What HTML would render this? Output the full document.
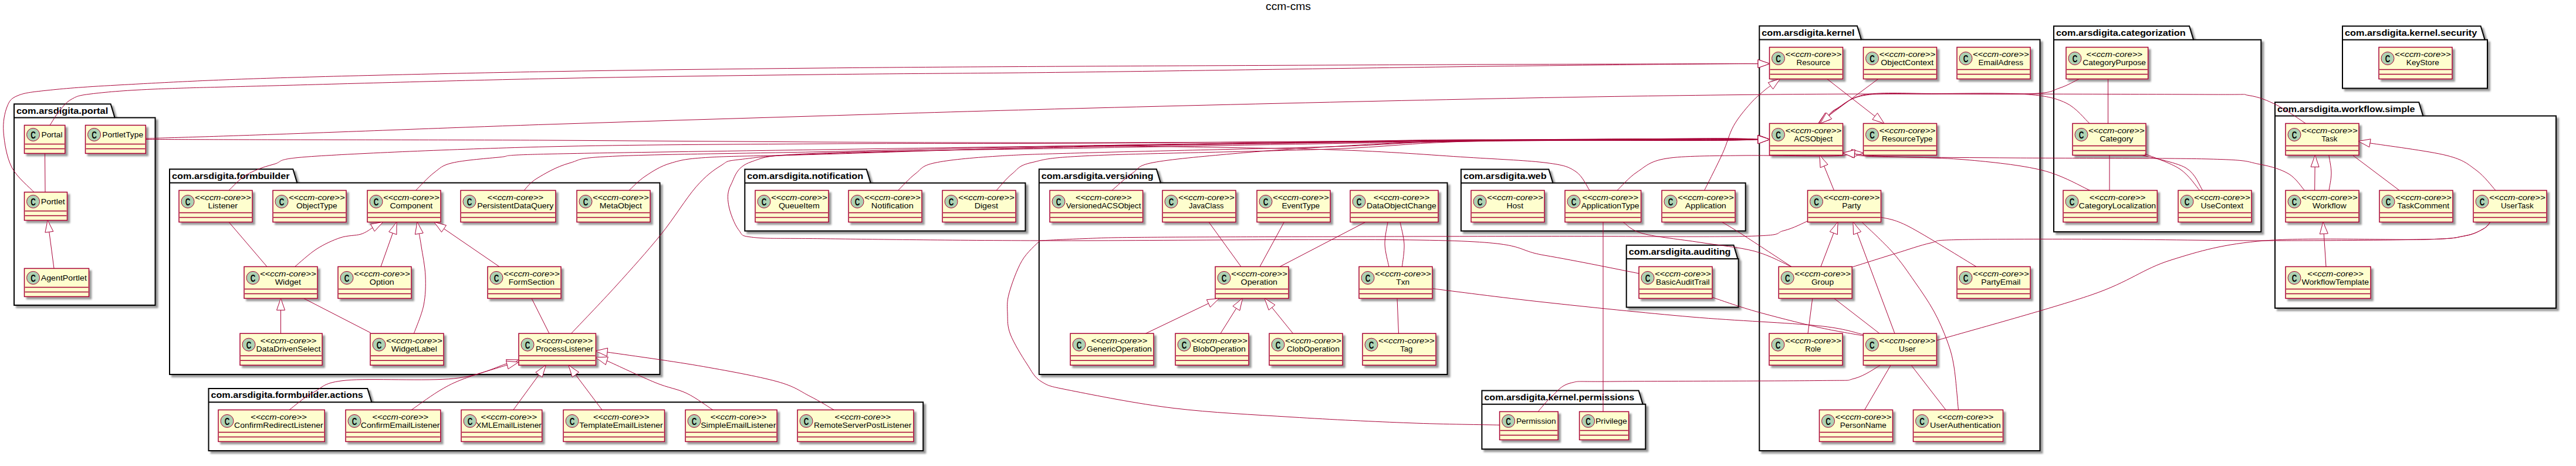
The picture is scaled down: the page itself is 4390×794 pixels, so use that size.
<!DOCTYPE html><html><head><meta charset="utf-8"><style>html,body{margin:0;padding:0;background:#fff;width:4390px;height:794px;overflow:hidden}svg{display:block}</style></head><body>
<svg width="4390" height="794" viewBox="0 0 4390 794" style="font-family:'Liberation Sans', sans-serif">
<defs><filter height="300%" id="f1" width="300%" x="-1" y="-1"><feGaussianBlur result="blurOut" stdDeviation="1.5"/><feColorMatrix in="blurOut" result="blurOut2" type="matrix" values="0 0 0 0 0 0 0 0 0 0 0 0 0 0 0 0 0 0 .4 0"/><feOffset dx="4.0" dy="4.0" in="blurOut2" result="blurOut3"/><feBlend in="SourceGraphic" in2="blurOut3" mode="normal"/></filter></defs>
<rect width="4390" height="794" fill="#fff"/>
<text x="2157" y="16.7" font-size="18" textLength="77" lengthAdjust="spacingAndGlyphs">ccm-cms</text>
<polygon points="24,177.3 188.6,177.3 195.6,200.6 264.5,200.6 264.5,520 24,520 24,177.3" fill="#fff" stroke="#000" stroke-width="2" filter="url(#f1)"/>
<line x1="24" y1="200.6" x2="195.6" y2="200.6" stroke="#000" stroke-width="2"/>
<text x="28" y="193.6" font-size="14" font-weight="bold" textLength="156.2" lengthAdjust="spacingAndGlyphs">com.arsdigita.portal</text>
<polygon points="289,288.2 499.3,288.2 506.3,311.5 1124.5,311.5 1124.5,638 289,638 289,288.2" fill="#fff" stroke="#000" stroke-width="2" filter="url(#f1)"/>
<line x1="289" y1="311.5" x2="506.3" y2="311.5" stroke="#000" stroke-width="2"/>
<text x="293" y="304.5" font-size="14" font-weight="bold" textLength="200.6" lengthAdjust="spacingAndGlyphs">com.arsdigita.formbuilder</text>
<polygon points="355.5,662 626.3,662 633.3,685.3 1573.2,685.3 1573.2,768 355.5,768 355.5,662" fill="#fff" stroke="#000" stroke-width="2" filter="url(#f1)"/>
<line x1="355.5" y1="685.3" x2="633.3" y2="685.3" stroke="#000" stroke-width="2"/>
<text x="359.5" y="678.3" font-size="14" font-weight="bold" textLength="259.3" lengthAdjust="spacingAndGlyphs">com.arsdigita.formbuilder.actions</text>
<polygon points="1269.3,288.4 1476.7,288.4 1483.7,311.7 1747.4,311.7 1747.4,393.5 1269.3,393.5 1269.3,288.4" fill="#fff" stroke="#000" stroke-width="2" filter="url(#f1)"/>
<line x1="1269.3" y1="311.7" x2="1483.7" y2="311.7" stroke="#000" stroke-width="2"/>
<text x="1273.3" y="304.7" font-size="14" font-weight="bold" textLength="197.8" lengthAdjust="spacingAndGlyphs">com.arsdigita.notification</text>
<polygon points="1770.8,288.2 1970.9,288.2 1977.9,311.5 2466.5,311.5 2466.5,638 1770.8,638 1770.8,288.2" fill="#fff" stroke="#000" stroke-width="2" filter="url(#f1)"/>
<line x1="1770.8" y1="311.5" x2="1977.9" y2="311.5" stroke="#000" stroke-width="2"/>
<text x="1774.8" y="304.5" font-size="14" font-weight="bold" textLength="190.7" lengthAdjust="spacingAndGlyphs">com.arsdigita.versioning</text>
<polygon points="2489.9,288.4 2639.4,288.4 2646.4,311.7 2974.7,311.7 2974.7,393.5 2489.9,393.5 2489.9,288.4" fill="#fff" stroke="#000" stroke-width="2" filter="url(#f1)"/>
<line x1="2489.9" y1="311.7" x2="2646.4" y2="311.7" stroke="#000" stroke-width="2"/>
<text x="2493.9" y="304.7" font-size="14" font-weight="bold" textLength="141.7" lengthAdjust="spacingAndGlyphs">com.arsdigita.web</text>
<polygon points="2771.7,417.8 2954.5,417.8 2961.5,441.1 2962.6,441.1 2962.6,523.5 2771.7,523.5 2771.7,417.8" fill="#fff" stroke="#000" stroke-width="2" filter="url(#f1)"/>
<line x1="2771.7" y1="441.1" x2="2961.5" y2="441.1" stroke="#000" stroke-width="2"/>
<text x="2775.7" y="434.1" font-size="14" font-weight="bold" textLength="173.9" lengthAdjust="spacingAndGlyphs">com.arsdigita.auditing</text>
<polygon points="2525.4,665.4 2792.6,665.4 2799.6,688.7 2804.3,688.7 2804.3,765.3 2525.4,765.3 2525.4,665.4" fill="#fff" stroke="#000" stroke-width="2" filter="url(#f1)"/>
<line x1="2525.4" y1="688.7" x2="2799.6" y2="688.7" stroke="#000" stroke-width="2"/>
<text x="2529.4" y="681.7" font-size="14" font-weight="bold" textLength="255.8" lengthAdjust="spacingAndGlyphs">com.arsdigita.kernel.permissions</text>
<polygon points="2998.3,44.2 3165.0,44.2 3172.0,67.5 3476.5,67.5 3476.5,768 2998.3,768 2998.3,44.2" fill="#fff" stroke="#000" stroke-width="2" filter="url(#f1)"/>
<line x1="2998.3" y1="67.5" x2="3172.0" y2="67.5" stroke="#000" stroke-width="2"/>
<text x="3002.3" y="60.5" font-size="14" font-weight="bold" textLength="158.3" lengthAdjust="spacingAndGlyphs">com.arsdigita.kernel</text>
<polygon points="3500,44.4 3731.1,44.4 3738.1,67.7 3853.3,67.7 3853.3,395 3500,395 3500,44.4" fill="#fff" stroke="#000" stroke-width="2" filter="url(#f1)"/>
<line x1="3500" y1="67.7" x2="3738.1" y2="67.7" stroke="#000" stroke-width="2"/>
<text x="3504" y="60.7" font-size="14" font-weight="bold" textLength="220.7" lengthAdjust="spacingAndGlyphs">com.arsdigita.categorization</text>
<polygon points="3992,44.4 4227.6,44.4 4234.6,67.7 4239,67.7 4239,150.6 3992,150.6 3992,44.4" fill="#fff" stroke="#000" stroke-width="2" filter="url(#f1)"/>
<line x1="3992" y1="67.7" x2="4234.6" y2="67.7" stroke="#000" stroke-width="2"/>
<text x="3996" y="60.7" font-size="14" font-weight="bold" textLength="225.2" lengthAdjust="spacingAndGlyphs">com.arsdigita.kernel.security</text>
<polygon points="3877,174.3 4122.3,174.3 4129.3,197.6 4356,197.6 4356,525 3877,525 3877,174.3" fill="#fff" stroke="#000" stroke-width="2" filter="url(#f1)"/>
<line x1="3877" y1="197.6" x2="4129.3" y2="197.6" stroke="#000" stroke-width="2"/>
<text x="3881" y="190.6" font-size="14" font-weight="bold" textLength="234.5" lengthAdjust="spacingAndGlyphs">com.arsdigita.workflow.simple</text>
<g><rect x="41.5" y="213.4" width="69.3" height="48" fill="#FEFECE" stroke="#A80036" stroke-width="1.5" filter="url(#f1)"/>
<circle cx="56.5" cy="229.4" r="11" fill="#ADD1B2" stroke="#A80036" stroke-width="1"/>
<text x="56.5" y="236.0" font-size="17" font-weight="bold" text-anchor="middle" textLength="8.6" lengthAdjust="spacingAndGlyphs">C</text>
<text x="88.5" y="233.6" font-size="12" text-anchor="middle" textLength="36.0" lengthAdjust="spacingAndGlyphs">Portal</text>
<line x1="42.5" y1="245.4" x2="109.8" y2="245.4" stroke="#A80036" stroke-width="1.5"/><line x1="42.5" y1="253.4" x2="109.8" y2="253.4" stroke="#A80036" stroke-width="1.5"/></g>
<g><rect x="145.5" y="213.4" width="102.8" height="48" fill="#FEFECE" stroke="#A80036" stroke-width="1.5" filter="url(#f1)"/>
<circle cx="160.5" cy="229.4" r="11" fill="#ADD1B2" stroke="#A80036" stroke-width="1"/>
<text x="160.5" y="236.0" font-size="17" font-weight="bold" text-anchor="middle" textLength="8.6" lengthAdjust="spacingAndGlyphs">C</text>
<text x="209.2" y="233.6" font-size="12" text-anchor="middle" textLength="69.8" lengthAdjust="spacingAndGlyphs">PortletType</text>
<line x1="146.5" y1="245.4" x2="247.3" y2="245.4" stroke="#A80036" stroke-width="1.5"/><line x1="146.5" y1="253.4" x2="247.3" y2="253.4" stroke="#A80036" stroke-width="1.5"/></g>
<g><rect x="41.5" y="327.4" width="73" height="48" fill="#FEFECE" stroke="#A80036" stroke-width="1.5" filter="url(#f1)"/>
<circle cx="56.5" cy="343.4" r="11" fill="#ADD1B2" stroke="#A80036" stroke-width="1"/>
<text x="56.5" y="350.0" font-size="17" font-weight="bold" text-anchor="middle" textLength="8.6" lengthAdjust="spacingAndGlyphs">C</text>
<text x="90.3" y="347.6" font-size="12" text-anchor="middle" textLength="41.0" lengthAdjust="spacingAndGlyphs">Portlet</text>
<line x1="42.5" y1="359.4" x2="113.5" y2="359.4" stroke="#A80036" stroke-width="1.5"/><line x1="42.5" y1="367.4" x2="113.5" y2="367.4" stroke="#A80036" stroke-width="1.5"/></g>
<g><rect x="41.5" y="457.4" width="110" height="48" fill="#FEFECE" stroke="#A80036" stroke-width="1.5" filter="url(#f1)"/>
<circle cx="56.5" cy="473.4" r="11" fill="#ADD1B2" stroke="#A80036" stroke-width="1"/>
<text x="56.5" y="480.0" font-size="17" font-weight="bold" text-anchor="middle" textLength="8.6" lengthAdjust="spacingAndGlyphs">C</text>
<text x="108.8" y="477.6" font-size="12" text-anchor="middle" textLength="78.1" lengthAdjust="spacingAndGlyphs">AgentPortlet</text>
<line x1="42.5" y1="489.4" x2="150.5" y2="489.4" stroke="#A80036" stroke-width="1.5"/><line x1="42.5" y1="497.4" x2="150.5" y2="497.4" stroke="#A80036" stroke-width="1.5"/></g>
<g><rect x="305" y="324.4" width="125" height="54" fill="#FEFECE" stroke="#A80036" stroke-width="1.5" filter="url(#f1)"/>
<circle cx="320" cy="343.4" r="11" fill="#ADD1B2" stroke="#A80036" stroke-width="1"/>
<text x="320" y="350.0" font-size="17" font-weight="bold" text-anchor="middle" textLength="8.6" lengthAdjust="spacingAndGlyphs">C</text>
<text x="379.8" y="341.2" font-size="12" font-style="italic" text-anchor="middle" textLength="95.7" lengthAdjust="spacingAndGlyphs">&lt;&lt;ccm-core&gt;&gt;</text>
<text x="379.8" y="354.7" font-size="12" text-anchor="middle" textLength="50.5" lengthAdjust="spacingAndGlyphs">Listener</text>
<line x1="306" y1="362.4" x2="429" y2="362.4" stroke="#A80036" stroke-width="1.5"/><line x1="306" y1="370.4" x2="429" y2="370.4" stroke="#A80036" stroke-width="1.5"/></g>
<g><rect x="465" y="324.4" width="125" height="54" fill="#FEFECE" stroke="#A80036" stroke-width="1.5" filter="url(#f1)"/>
<circle cx="480" cy="343.4" r="11" fill="#ADD1B2" stroke="#A80036" stroke-width="1"/>
<text x="480" y="350.0" font-size="17" font-weight="bold" text-anchor="middle" textLength="8.6" lengthAdjust="spacingAndGlyphs">C</text>
<text x="539.8" y="341.2" font-size="12" font-style="italic" text-anchor="middle" textLength="95.7" lengthAdjust="spacingAndGlyphs">&lt;&lt;ccm-core&gt;&gt;</text>
<text x="539.8" y="354.7" font-size="12" text-anchor="middle" textLength="69.7" lengthAdjust="spacingAndGlyphs">ObjectType</text>
<line x1="466" y1="362.4" x2="589" y2="362.4" stroke="#A80036" stroke-width="1.5"/><line x1="466" y1="370.4" x2="589" y2="370.4" stroke="#A80036" stroke-width="1.5"/></g>
<g><rect x="626" y="324.4" width="125" height="54" fill="#FEFECE" stroke="#A80036" stroke-width="1.5" filter="url(#f1)"/>
<circle cx="641" cy="343.4" r="11" fill="#ADD1B2" stroke="#A80036" stroke-width="1"/>
<text x="641" y="350.0" font-size="17" font-weight="bold" text-anchor="middle" textLength="8.6" lengthAdjust="spacingAndGlyphs">C</text>
<text x="700.8" y="341.2" font-size="12" font-style="italic" text-anchor="middle" textLength="95.7" lengthAdjust="spacingAndGlyphs">&lt;&lt;ccm-core&gt;&gt;</text>
<text x="700.8" y="354.7" font-size="12" text-anchor="middle" textLength="72.8" lengthAdjust="spacingAndGlyphs">Component</text>
<line x1="627" y1="362.4" x2="750" y2="362.4" stroke="#A80036" stroke-width="1.5"/><line x1="627" y1="370.4" x2="750" y2="370.4" stroke="#A80036" stroke-width="1.5"/></g>
<g><rect x="785" y="324.4" width="161.9" height="54" fill="#FEFECE" stroke="#A80036" stroke-width="1.5" filter="url(#f1)"/>
<circle cx="800" cy="343.4" r="11" fill="#ADD1B2" stroke="#A80036" stroke-width="1"/>
<text x="800" y="350.0" font-size="17" font-weight="bold" text-anchor="middle" textLength="8.6" lengthAdjust="spacingAndGlyphs">C</text>
<text x="878.2" y="341.2" font-size="12" font-style="italic" text-anchor="middle" textLength="95.7" lengthAdjust="spacingAndGlyphs">&lt;&lt;ccm-core&gt;&gt;</text>
<text x="878.2" y="354.7" font-size="12" text-anchor="middle" textLength="130.1" lengthAdjust="spacingAndGlyphs">PersistentDataQuery</text>
<line x1="786" y1="362.4" x2="945.9" y2="362.4" stroke="#A80036" stroke-width="1.5"/><line x1="786" y1="370.4" x2="945.9" y2="370.4" stroke="#A80036" stroke-width="1.5"/></g>
<g><rect x="983" y="324.4" width="125" height="54" fill="#FEFECE" stroke="#A80036" stroke-width="1.5" filter="url(#f1)"/>
<circle cx="998" cy="343.4" r="11" fill="#ADD1B2" stroke="#A80036" stroke-width="1"/>
<text x="998" y="350.0" font-size="17" font-weight="bold" text-anchor="middle" textLength="8.6" lengthAdjust="spacingAndGlyphs">C</text>
<text x="1057.8" y="341.2" font-size="12" font-style="italic" text-anchor="middle" textLength="95.7" lengthAdjust="spacingAndGlyphs">&lt;&lt;ccm-core&gt;&gt;</text>
<text x="1057.8" y="354.7" font-size="12" text-anchor="middle" textLength="72.0" lengthAdjust="spacingAndGlyphs">MetaObject</text>
<line x1="984" y1="362.4" x2="1107" y2="362.4" stroke="#A80036" stroke-width="1.5"/><line x1="984" y1="370.4" x2="1107" y2="370.4" stroke="#A80036" stroke-width="1.5"/></g>
<g><rect x="416" y="454.4" width="125" height="54" fill="#FEFECE" stroke="#A80036" stroke-width="1.5" filter="url(#f1)"/>
<circle cx="431" cy="473.4" r="11" fill="#ADD1B2" stroke="#A80036" stroke-width="1"/>
<text x="431" y="480.0" font-size="17" font-weight="bold" text-anchor="middle" textLength="8.6" lengthAdjust="spacingAndGlyphs">C</text>
<text x="490.8" y="471.2" font-size="12" font-style="italic" text-anchor="middle" textLength="95.7" lengthAdjust="spacingAndGlyphs">&lt;&lt;ccm-core&gt;&gt;</text>
<text x="490.8" y="484.7" font-size="12" text-anchor="middle" textLength="44.2" lengthAdjust="spacingAndGlyphs">Widget</text>
<line x1="417" y1="492.4" x2="540" y2="492.4" stroke="#A80036" stroke-width="1.5"/><line x1="417" y1="500.4" x2="540" y2="500.4" stroke="#A80036" stroke-width="1.5"/></g>
<g><rect x="576" y="454.4" width="125" height="54" fill="#FEFECE" stroke="#A80036" stroke-width="1.5" filter="url(#f1)"/>
<circle cx="591" cy="473.4" r="11" fill="#ADD1B2" stroke="#A80036" stroke-width="1"/>
<text x="591" y="480.0" font-size="17" font-weight="bold" text-anchor="middle" textLength="8.6" lengthAdjust="spacingAndGlyphs">C</text>
<text x="650.8" y="471.2" font-size="12" font-style="italic" text-anchor="middle" textLength="95.7" lengthAdjust="spacingAndGlyphs">&lt;&lt;ccm-core&gt;&gt;</text>
<text x="650.8" y="484.7" font-size="12" text-anchor="middle" textLength="41.9" lengthAdjust="spacingAndGlyphs">Option</text>
<line x1="577" y1="492.4" x2="700" y2="492.4" stroke="#A80036" stroke-width="1.5"/><line x1="577" y1="500.4" x2="700" y2="500.4" stroke="#A80036" stroke-width="1.5"/></g>
<g><rect x="831" y="454.4" width="125" height="54" fill="#FEFECE" stroke="#A80036" stroke-width="1.5" filter="url(#f1)"/>
<circle cx="846" cy="473.4" r="11" fill="#ADD1B2" stroke="#A80036" stroke-width="1"/>
<text x="846" y="480.0" font-size="17" font-weight="bold" text-anchor="middle" textLength="8.6" lengthAdjust="spacingAndGlyphs">C</text>
<text x="905.8" y="471.2" font-size="12" font-style="italic" text-anchor="middle" textLength="95.7" lengthAdjust="spacingAndGlyphs">&lt;&lt;ccm-core&gt;&gt;</text>
<text x="905.8" y="484.7" font-size="12" text-anchor="middle" textLength="78.2" lengthAdjust="spacingAndGlyphs">FormSection</text>
<line x1="832" y1="492.4" x2="955" y2="492.4" stroke="#A80036" stroke-width="1.5"/><line x1="832" y1="500.4" x2="955" y2="500.4" stroke="#A80036" stroke-width="1.5"/></g>
<g><rect x="409" y="568.2" width="140.1" height="54" fill="#FEFECE" stroke="#A80036" stroke-width="1.5" filter="url(#f1)"/>
<circle cx="424" cy="587.2" r="11" fill="#ADD1B2" stroke="#A80036" stroke-width="1"/>
<text x="424" y="593.8000000000001" font-size="17" font-weight="bold" text-anchor="middle" textLength="8.6" lengthAdjust="spacingAndGlyphs">C</text>
<text x="491.4" y="585.0" font-size="12" font-style="italic" text-anchor="middle" textLength="95.7" lengthAdjust="spacingAndGlyphs">&lt;&lt;ccm-core&gt;&gt;</text>
<text x="491.4" y="598.5" font-size="12" text-anchor="middle" textLength="110.0" lengthAdjust="spacingAndGlyphs">DataDrivenSelect</text>
<line x1="410" y1="606.2" x2="548.1" y2="606.2" stroke="#A80036" stroke-width="1.5"/><line x1="410" y1="614.2" x2="548.1" y2="614.2" stroke="#A80036" stroke-width="1.5"/></g>
<g><rect x="631" y="568.2" width="125" height="54" fill="#FEFECE" stroke="#A80036" stroke-width="1.5" filter="url(#f1)"/>
<circle cx="646" cy="587.2" r="11" fill="#ADD1B2" stroke="#A80036" stroke-width="1"/>
<text x="646" y="593.8000000000001" font-size="17" font-weight="bold" text-anchor="middle" textLength="8.6" lengthAdjust="spacingAndGlyphs">C</text>
<text x="705.8" y="585.0" font-size="12" font-style="italic" text-anchor="middle" textLength="95.7" lengthAdjust="spacingAndGlyphs">&lt;&lt;ccm-core&gt;&gt;</text>
<text x="705.8" y="598.5" font-size="12" text-anchor="middle" textLength="78.0" lengthAdjust="spacingAndGlyphs">WidgetLabel</text>
<line x1="632" y1="606.2" x2="755" y2="606.2" stroke="#A80036" stroke-width="1.5"/><line x1="632" y1="614.2" x2="755" y2="614.2" stroke="#A80036" stroke-width="1.5"/></g>
<g><rect x="884" y="568.2" width="131.4" height="54" fill="#FEFECE" stroke="#A80036" stroke-width="1.5" filter="url(#f1)"/>
<circle cx="899" cy="587.2" r="11" fill="#ADD1B2" stroke="#A80036" stroke-width="1"/>
<text x="899" y="593.8000000000001" font-size="17" font-weight="bold" text-anchor="middle" textLength="8.6" lengthAdjust="spacingAndGlyphs">C</text>
<text x="962.0" y="585.0" font-size="12" font-style="italic" text-anchor="middle" textLength="95.7" lengthAdjust="spacingAndGlyphs">&lt;&lt;ccm-core&gt;&gt;</text>
<text x="962.0" y="598.5" font-size="12" text-anchor="middle" textLength="98.1" lengthAdjust="spacingAndGlyphs">ProcessListener</text>
<line x1="885" y1="606.2" x2="1014.4" y2="606.2" stroke="#A80036" stroke-width="1.5"/><line x1="885" y1="614.2" x2="1014.4" y2="614.2" stroke="#A80036" stroke-width="1.5"/></g>
<g><rect x="372" y="698.4" width="181.2" height="54" fill="#FEFECE" stroke="#A80036" stroke-width="1.5" filter="url(#f1)"/>
<circle cx="387" cy="717.4" r="11" fill="#ADD1B2" stroke="#A80036" stroke-width="1"/>
<text x="387" y="724.0" font-size="17" font-weight="bold" text-anchor="middle" textLength="8.6" lengthAdjust="spacingAndGlyphs">C</text>
<text x="474.9" y="715.2" font-size="12" font-style="italic" text-anchor="middle" textLength="95.7" lengthAdjust="spacingAndGlyphs">&lt;&lt;ccm-core&gt;&gt;</text>
<text x="474.9" y="728.7" font-size="12" text-anchor="middle" textLength="151.7" lengthAdjust="spacingAndGlyphs">ConfirmRedirectListener</text>
<line x1="373" y1="736.4" x2="552.2" y2="736.4" stroke="#A80036" stroke-width="1.5"/><line x1="373" y1="744.4" x2="552.2" y2="744.4" stroke="#A80036" stroke-width="1.5"/></g>
<g><rect x="589" y="698.4" width="161.8" height="54" fill="#FEFECE" stroke="#A80036" stroke-width="1.5" filter="url(#f1)"/>
<circle cx="604" cy="717.4" r="11" fill="#ADD1B2" stroke="#A80036" stroke-width="1"/>
<text x="604" y="724.0" font-size="17" font-weight="bold" text-anchor="middle" textLength="8.6" lengthAdjust="spacingAndGlyphs">C</text>
<text x="682.2" y="715.2" font-size="12" font-style="italic" text-anchor="middle" textLength="95.7" lengthAdjust="spacingAndGlyphs">&lt;&lt;ccm-core&gt;&gt;</text>
<text x="682.2" y="728.7" font-size="12" text-anchor="middle" textLength="134.7" lengthAdjust="spacingAndGlyphs">ConfirmEmailListener</text>
<line x1="590" y1="736.4" x2="749.8" y2="736.4" stroke="#A80036" stroke-width="1.5"/><line x1="590" y1="744.4" x2="749.8" y2="744.4" stroke="#A80036" stroke-width="1.5"/></g>
<g><rect x="786" y="698.4" width="137.7" height="54" fill="#FEFECE" stroke="#A80036" stroke-width="1.5" filter="url(#f1)"/>
<circle cx="801" cy="717.4" r="11" fill="#ADD1B2" stroke="#A80036" stroke-width="1"/>
<text x="801" y="724.0" font-size="17" font-weight="bold" text-anchor="middle" textLength="8.6" lengthAdjust="spacingAndGlyphs">C</text>
<text x="867.1" y="715.2" font-size="12" font-style="italic" text-anchor="middle" textLength="95.7" lengthAdjust="spacingAndGlyphs">&lt;&lt;ccm-core&gt;&gt;</text>
<text x="867.1" y="728.7" font-size="12" text-anchor="middle" textLength="111.7" lengthAdjust="spacingAndGlyphs">XMLEmailListener</text>
<line x1="787" y1="736.4" x2="922.7" y2="736.4" stroke="#A80036" stroke-width="1.5"/><line x1="787" y1="744.4" x2="922.7" y2="744.4" stroke="#A80036" stroke-width="1.5"/></g>
<g><rect x="960" y="698.4" width="172.5" height="54" fill="#FEFECE" stroke="#A80036" stroke-width="1.5" filter="url(#f1)"/>
<circle cx="975" cy="717.4" r="11" fill="#ADD1B2" stroke="#A80036" stroke-width="1"/>
<text x="975" y="724.0" font-size="17" font-weight="bold" text-anchor="middle" textLength="8.6" lengthAdjust="spacingAndGlyphs">C</text>
<text x="1058.5" y="715.2" font-size="12" font-style="italic" text-anchor="middle" textLength="95.7" lengthAdjust="spacingAndGlyphs">&lt;&lt;ccm-core&gt;&gt;</text>
<text x="1058.5" y="728.7" font-size="12" text-anchor="middle" textLength="142.5" lengthAdjust="spacingAndGlyphs">TemplateEmailListener</text>
<line x1="961" y1="736.4" x2="1131.5" y2="736.4" stroke="#A80036" stroke-width="1.5"/><line x1="961" y1="744.4" x2="1131.5" y2="744.4" stroke="#A80036" stroke-width="1.5"/></g>
<g><rect x="1168" y="698.4" width="156.1" height="54" fill="#FEFECE" stroke="#A80036" stroke-width="1.5" filter="url(#f1)"/>
<circle cx="1183" cy="717.4" r="11" fill="#ADD1B2" stroke="#A80036" stroke-width="1"/>
<text x="1183" y="724.0" font-size="17" font-weight="bold" text-anchor="middle" textLength="8.6" lengthAdjust="spacingAndGlyphs">C</text>
<text x="1258.3" y="715.2" font-size="12" font-style="italic" text-anchor="middle" textLength="95.7" lengthAdjust="spacingAndGlyphs">&lt;&lt;ccm-core&gt;&gt;</text>
<text x="1258.3" y="728.7" font-size="12" text-anchor="middle" textLength="128.1" lengthAdjust="spacingAndGlyphs">SimpleEmailListener</text>
<line x1="1169" y1="736.4" x2="1323.1" y2="736.4" stroke="#A80036" stroke-width="1.5"/><line x1="1169" y1="744.4" x2="1323.1" y2="744.4" stroke="#A80036" stroke-width="1.5"/></g>
<g><rect x="1359" y="698.4" width="197.9" height="54" fill="#FEFECE" stroke="#A80036" stroke-width="1.5" filter="url(#f1)"/>
<circle cx="1374" cy="717.4" r="11" fill="#ADD1B2" stroke="#A80036" stroke-width="1"/>
<text x="1374" y="724.0" font-size="17" font-weight="bold" text-anchor="middle" textLength="8.6" lengthAdjust="spacingAndGlyphs">C</text>
<text x="1470.2" y="715.2" font-size="12" font-style="italic" text-anchor="middle" textLength="95.7" lengthAdjust="spacingAndGlyphs">&lt;&lt;ccm-core&gt;&gt;</text>
<text x="1470.2" y="728.7" font-size="12" text-anchor="middle" textLength="166.3" lengthAdjust="spacingAndGlyphs">RemoteServerPostListener</text>
<line x1="1360" y1="736.4" x2="1555.9" y2="736.4" stroke="#A80036" stroke-width="1.5"/><line x1="1360" y1="744.4" x2="1555.9" y2="744.4" stroke="#A80036" stroke-width="1.5"/></g>
<g><rect x="1287" y="324.4" width="125" height="54" fill="#FEFECE" stroke="#A80036" stroke-width="1.5" filter="url(#f1)"/>
<circle cx="1302" cy="343.4" r="11" fill="#ADD1B2" stroke="#A80036" stroke-width="1"/>
<text x="1302" y="350.0" font-size="17" font-weight="bold" text-anchor="middle" textLength="8.6" lengthAdjust="spacingAndGlyphs">C</text>
<text x="1361.8" y="341.2" font-size="12" font-style="italic" text-anchor="middle" textLength="95.7" lengthAdjust="spacingAndGlyphs">&lt;&lt;ccm-core&gt;&gt;</text>
<text x="1361.8" y="354.7" font-size="12" text-anchor="middle" textLength="69.8" lengthAdjust="spacingAndGlyphs">QueueItem</text>
<line x1="1288" y1="362.4" x2="1411" y2="362.4" stroke="#A80036" stroke-width="1.5"/><line x1="1288" y1="370.4" x2="1411" y2="370.4" stroke="#A80036" stroke-width="1.5"/></g>
<g><rect x="1446" y="324.4" width="125" height="54" fill="#FEFECE" stroke="#A80036" stroke-width="1.5" filter="url(#f1)"/>
<circle cx="1461" cy="343.4" r="11" fill="#ADD1B2" stroke="#A80036" stroke-width="1"/>
<text x="1461" y="350.0" font-size="17" font-weight="bold" text-anchor="middle" textLength="8.6" lengthAdjust="spacingAndGlyphs">C</text>
<text x="1520.8" y="341.2" font-size="12" font-style="italic" text-anchor="middle" textLength="95.7" lengthAdjust="spacingAndGlyphs">&lt;&lt;ccm-core&gt;&gt;</text>
<text x="1520.8" y="354.7" font-size="12" text-anchor="middle" textLength="72.0" lengthAdjust="spacingAndGlyphs">Notification</text>
<line x1="1447" y1="362.4" x2="1570" y2="362.4" stroke="#A80036" stroke-width="1.5"/><line x1="1447" y1="370.4" x2="1570" y2="370.4" stroke="#A80036" stroke-width="1.5"/></g>
<g><rect x="1606" y="324.4" width="125" height="54" fill="#FEFECE" stroke="#A80036" stroke-width="1.5" filter="url(#f1)"/>
<circle cx="1621" cy="343.4" r="11" fill="#ADD1B2" stroke="#A80036" stroke-width="1"/>
<text x="1621" y="350.0" font-size="17" font-weight="bold" text-anchor="middle" textLength="8.6" lengthAdjust="spacingAndGlyphs">C</text>
<text x="1680.8" y="341.2" font-size="12" font-style="italic" text-anchor="middle" textLength="95.7" lengthAdjust="spacingAndGlyphs">&lt;&lt;ccm-core&gt;&gt;</text>
<text x="1680.8" y="354.7" font-size="12" text-anchor="middle" textLength="40.3" lengthAdjust="spacingAndGlyphs">Digest</text>
<line x1="1607" y1="362.4" x2="1730" y2="362.4" stroke="#A80036" stroke-width="1.5"/><line x1="1607" y1="370.4" x2="1730" y2="370.4" stroke="#A80036" stroke-width="1.5"/></g>
<g><rect x="1789" y="324.4" width="158.6" height="54" fill="#FEFECE" stroke="#A80036" stroke-width="1.5" filter="url(#f1)"/>
<circle cx="1804" cy="343.4" r="11" fill="#ADD1B2" stroke="#A80036" stroke-width="1"/>
<text x="1804" y="350.0" font-size="17" font-weight="bold" text-anchor="middle" textLength="8.6" lengthAdjust="spacingAndGlyphs">C</text>
<text x="1880.6" y="341.2" font-size="12" font-style="italic" text-anchor="middle" textLength="95.7" lengthAdjust="spacingAndGlyphs">&lt;&lt;ccm-core&gt;&gt;</text>
<text x="1880.6" y="354.7" font-size="12" text-anchor="middle" textLength="127.7" lengthAdjust="spacingAndGlyphs">VersionedACSObject</text>
<line x1="1790" y1="362.4" x2="1946.6" y2="362.4" stroke="#A80036" stroke-width="1.5"/><line x1="1790" y1="370.4" x2="1946.6" y2="370.4" stroke="#A80036" stroke-width="1.5"/></g>
<g><rect x="1981" y="324.4" width="125" height="54" fill="#FEFECE" stroke="#A80036" stroke-width="1.5" filter="url(#f1)"/>
<circle cx="1996" cy="343.4" r="11" fill="#ADD1B2" stroke="#A80036" stroke-width="1"/>
<text x="1996" y="350.0" font-size="17" font-weight="bold" text-anchor="middle" textLength="8.6" lengthAdjust="spacingAndGlyphs">C</text>
<text x="2055.8" y="341.2" font-size="12" font-style="italic" text-anchor="middle" textLength="95.7" lengthAdjust="spacingAndGlyphs">&lt;&lt;ccm-core&gt;&gt;</text>
<text x="2055.8" y="354.7" font-size="12" text-anchor="middle" textLength="59.5" lengthAdjust="spacingAndGlyphs">JavaClass</text>
<line x1="1982" y1="362.4" x2="2105" y2="362.4" stroke="#A80036" stroke-width="1.5"/><line x1="1982" y1="370.4" x2="2105" y2="370.4" stroke="#A80036" stroke-width="1.5"/></g>
<g><rect x="2142" y="324.4" width="125" height="54" fill="#FEFECE" stroke="#A80036" stroke-width="1.5" filter="url(#f1)"/>
<circle cx="2157" cy="343.4" r="11" fill="#ADD1B2" stroke="#A80036" stroke-width="1"/>
<text x="2157" y="350.0" font-size="17" font-weight="bold" text-anchor="middle" textLength="8.6" lengthAdjust="spacingAndGlyphs">C</text>
<text x="2216.8" y="341.2" font-size="12" font-style="italic" text-anchor="middle" textLength="95.7" lengthAdjust="spacingAndGlyphs">&lt;&lt;ccm-core&gt;&gt;</text>
<text x="2216.8" y="354.7" font-size="12" text-anchor="middle" textLength="64.8" lengthAdjust="spacingAndGlyphs">EventType</text>
<line x1="2143" y1="362.4" x2="2266" y2="362.4" stroke="#A80036" stroke-width="1.5"/><line x1="2143" y1="370.4" x2="2266" y2="370.4" stroke="#A80036" stroke-width="1.5"/></g>
<g><rect x="2301" y="324.4" width="150" height="54" fill="#FEFECE" stroke="#A80036" stroke-width="1.5" filter="url(#f1)"/>
<circle cx="2316" cy="343.4" r="11" fill="#ADD1B2" stroke="#A80036" stroke-width="1"/>
<text x="2316" y="350.0" font-size="17" font-weight="bold" text-anchor="middle" textLength="8.6" lengthAdjust="spacingAndGlyphs">C</text>
<text x="2388.3" y="341.2" font-size="12" font-style="italic" text-anchor="middle" textLength="95.7" lengthAdjust="spacingAndGlyphs">&lt;&lt;ccm-core&gt;&gt;</text>
<text x="2388.3" y="354.7" font-size="12" text-anchor="middle" textLength="118.8" lengthAdjust="spacingAndGlyphs">DataObjectChange</text>
<line x1="2302" y1="362.4" x2="2450" y2="362.4" stroke="#A80036" stroke-width="1.5"/><line x1="2302" y1="370.4" x2="2450" y2="370.4" stroke="#A80036" stroke-width="1.5"/></g>
<g><rect x="2071" y="454.4" width="125" height="54" fill="#FEFECE" stroke="#A80036" stroke-width="1.5" filter="url(#f1)"/>
<circle cx="2086" cy="473.4" r="11" fill="#ADD1B2" stroke="#A80036" stroke-width="1"/>
<text x="2086" y="480.0" font-size="17" font-weight="bold" text-anchor="middle" textLength="8.6" lengthAdjust="spacingAndGlyphs">C</text>
<text x="2145.8" y="471.2" font-size="12" font-style="italic" text-anchor="middle" textLength="95.7" lengthAdjust="spacingAndGlyphs">&lt;&lt;ccm-core&gt;&gt;</text>
<text x="2145.8" y="484.7" font-size="12" text-anchor="middle" textLength="62.4" lengthAdjust="spacingAndGlyphs">Operation</text>
<line x1="2072" y1="492.4" x2="2195" y2="492.4" stroke="#A80036" stroke-width="1.5"/><line x1="2072" y1="500.4" x2="2195" y2="500.4" stroke="#A80036" stroke-width="1.5"/></g>
<g><rect x="2316" y="454.4" width="125" height="54" fill="#FEFECE" stroke="#A80036" stroke-width="1.5" filter="url(#f1)"/>
<circle cx="2331" cy="473.4" r="11" fill="#ADD1B2" stroke="#A80036" stroke-width="1"/>
<text x="2331" y="480.0" font-size="17" font-weight="bold" text-anchor="middle" textLength="8.6" lengthAdjust="spacingAndGlyphs">C</text>
<text x="2390.8" y="471.2" font-size="12" font-style="italic" text-anchor="middle" textLength="95.7" lengthAdjust="spacingAndGlyphs">&lt;&lt;ccm-core&gt;&gt;</text>
<text x="2390.8" y="484.7" font-size="12" text-anchor="middle" textLength="23.0" lengthAdjust="spacingAndGlyphs">Txn</text>
<line x1="2317" y1="492.4" x2="2440" y2="492.4" stroke="#A80036" stroke-width="1.5"/><line x1="2317" y1="500.4" x2="2440" y2="500.4" stroke="#A80036" stroke-width="1.5"/></g>
<g><rect x="1824" y="568.2" width="142" height="54" fill="#FEFECE" stroke="#A80036" stroke-width="1.5" filter="url(#f1)"/>
<circle cx="1839" cy="587.2" r="11" fill="#ADD1B2" stroke="#A80036" stroke-width="1"/>
<text x="1839" y="593.8000000000001" font-size="17" font-weight="bold" text-anchor="middle" textLength="8.6" lengthAdjust="spacingAndGlyphs">C</text>
<text x="1907.3" y="585.0" font-size="12" font-style="italic" text-anchor="middle" textLength="95.7" lengthAdjust="spacingAndGlyphs">&lt;&lt;ccm-core&gt;&gt;</text>
<text x="1907.3" y="598.5" font-size="12" text-anchor="middle" textLength="111.1" lengthAdjust="spacingAndGlyphs">GenericOperation</text>
<line x1="1825" y1="606.2" x2="1965" y2="606.2" stroke="#A80036" stroke-width="1.5"/><line x1="1825" y1="614.2" x2="1965" y2="614.2" stroke="#A80036" stroke-width="1.5"/></g>
<g><rect x="2003" y="568.2" width="125" height="54" fill="#FEFECE" stroke="#A80036" stroke-width="1.5" filter="url(#f1)"/>
<circle cx="2018" cy="587.2" r="11" fill="#ADD1B2" stroke="#A80036" stroke-width="1"/>
<text x="2018" y="593.8000000000001" font-size="17" font-weight="bold" text-anchor="middle" textLength="8.6" lengthAdjust="spacingAndGlyphs">C</text>
<text x="2077.8" y="585.0" font-size="12" font-style="italic" text-anchor="middle" textLength="95.7" lengthAdjust="spacingAndGlyphs">&lt;&lt;ccm-core&gt;&gt;</text>
<text x="2077.8" y="598.5" font-size="12" text-anchor="middle" textLength="90.2" lengthAdjust="spacingAndGlyphs">BlobOperation</text>
<line x1="2004" y1="606.2" x2="2127" y2="606.2" stroke="#A80036" stroke-width="1.5"/><line x1="2004" y1="614.2" x2="2127" y2="614.2" stroke="#A80036" stroke-width="1.5"/></g>
<g><rect x="2163" y="568.2" width="125" height="54" fill="#FEFECE" stroke="#A80036" stroke-width="1.5" filter="url(#f1)"/>
<circle cx="2178" cy="587.2" r="11" fill="#ADD1B2" stroke="#A80036" stroke-width="1"/>
<text x="2178" y="593.8000000000001" font-size="17" font-weight="bold" text-anchor="middle" textLength="8.6" lengthAdjust="spacingAndGlyphs">C</text>
<text x="2237.8" y="585.0" font-size="12" font-style="italic" text-anchor="middle" textLength="95.7" lengthAdjust="spacingAndGlyphs">&lt;&lt;ccm-core&gt;&gt;</text>
<text x="2237.8" y="598.5" font-size="12" text-anchor="middle" textLength="90.3" lengthAdjust="spacingAndGlyphs">ClobOperation</text>
<line x1="2164" y1="606.2" x2="2287" y2="606.2" stroke="#A80036" stroke-width="1.5"/><line x1="2164" y1="614.2" x2="2287" y2="614.2" stroke="#A80036" stroke-width="1.5"/></g>
<g><rect x="2322" y="568.2" width="125" height="54" fill="#FEFECE" stroke="#A80036" stroke-width="1.5" filter="url(#f1)"/>
<circle cx="2337" cy="587.2" r="11" fill="#ADD1B2" stroke="#A80036" stroke-width="1"/>
<text x="2337" y="593.8000000000001" font-size="17" font-weight="bold" text-anchor="middle" textLength="8.6" lengthAdjust="spacingAndGlyphs">C</text>
<text x="2396.8" y="585.0" font-size="12" font-style="italic" text-anchor="middle" textLength="95.7" lengthAdjust="spacingAndGlyphs">&lt;&lt;ccm-core&gt;&gt;</text>
<text x="2396.8" y="598.5" font-size="12" text-anchor="middle" textLength="21.2" lengthAdjust="spacingAndGlyphs">Tag</text>
<line x1="2323" y1="606.2" x2="2446" y2="606.2" stroke="#A80036" stroke-width="1.5"/><line x1="2323" y1="614.2" x2="2446" y2="614.2" stroke="#A80036" stroke-width="1.5"/></g>
<g><rect x="2507" y="324.4" width="125" height="54" fill="#FEFECE" stroke="#A80036" stroke-width="1.5" filter="url(#f1)"/>
<circle cx="2522" cy="343.4" r="11" fill="#ADD1B2" stroke="#A80036" stroke-width="1"/>
<text x="2522" y="350.0" font-size="17" font-weight="bold" text-anchor="middle" textLength="8.6" lengthAdjust="spacingAndGlyphs">C</text>
<text x="2581.8" y="341.2" font-size="12" font-style="italic" text-anchor="middle" textLength="95.7" lengthAdjust="spacingAndGlyphs">&lt;&lt;ccm-core&gt;&gt;</text>
<text x="2581.8" y="354.7" font-size="12" text-anchor="middle" textLength="28.6" lengthAdjust="spacingAndGlyphs">Host</text>
<line x1="2508" y1="362.4" x2="2631" y2="362.4" stroke="#A80036" stroke-width="1.5"/><line x1="2508" y1="370.4" x2="2631" y2="370.4" stroke="#A80036" stroke-width="1.5"/></g>
<g><rect x="2667" y="324.4" width="129.6" height="54" fill="#FEFECE" stroke="#A80036" stroke-width="1.5" filter="url(#f1)"/>
<circle cx="2682" cy="343.4" r="11" fill="#ADD1B2" stroke="#A80036" stroke-width="1"/>
<text x="2682" y="350.0" font-size="17" font-weight="bold" text-anchor="middle" textLength="8.6" lengthAdjust="spacingAndGlyphs">C</text>
<text x="2744.1" y="341.2" font-size="12" font-style="italic" text-anchor="middle" textLength="95.7" lengthAdjust="spacingAndGlyphs">&lt;&lt;ccm-core&gt;&gt;</text>
<text x="2744.1" y="354.7" font-size="12" text-anchor="middle" textLength="98.9" lengthAdjust="spacingAndGlyphs">ApplicationType</text>
<line x1="2668" y1="362.4" x2="2795.6" y2="362.4" stroke="#A80036" stroke-width="1.5"/><line x1="2668" y1="370.4" x2="2795.6" y2="370.4" stroke="#A80036" stroke-width="1.5"/></g>
<g><rect x="2832" y="324.4" width="125" height="54" fill="#FEFECE" stroke="#A80036" stroke-width="1.5" filter="url(#f1)"/>
<circle cx="2847" cy="343.4" r="11" fill="#ADD1B2" stroke="#A80036" stroke-width="1"/>
<text x="2847" y="350.0" font-size="17" font-weight="bold" text-anchor="middle" textLength="8.6" lengthAdjust="spacingAndGlyphs">C</text>
<text x="2906.8" y="341.2" font-size="12" font-style="italic" text-anchor="middle" textLength="95.7" lengthAdjust="spacingAndGlyphs">&lt;&lt;ccm-core&gt;&gt;</text>
<text x="2906.8" y="354.7" font-size="12" text-anchor="middle" textLength="70.1" lengthAdjust="spacingAndGlyphs">Application</text>
<line x1="2833" y1="362.4" x2="2956" y2="362.4" stroke="#A80036" stroke-width="1.5"/><line x1="2833" y1="370.4" x2="2956" y2="370.4" stroke="#A80036" stroke-width="1.5"/></g>
<g><rect x="2793" y="454.4" width="125" height="54" fill="#FEFECE" stroke="#A80036" stroke-width="1.5" filter="url(#f1)"/>
<circle cx="2808" cy="473.4" r="11" fill="#ADD1B2" stroke="#A80036" stroke-width="1"/>
<text x="2808" y="480.0" font-size="17" font-weight="bold" text-anchor="middle" textLength="8.6" lengthAdjust="spacingAndGlyphs">C</text>
<text x="2867.8" y="471.2" font-size="12" font-style="italic" text-anchor="middle" textLength="95.7" lengthAdjust="spacingAndGlyphs">&lt;&lt;ccm-core&gt;&gt;</text>
<text x="2867.8" y="484.7" font-size="12" text-anchor="middle" textLength="91.7" lengthAdjust="spacingAndGlyphs">BasicAuditTrail</text>
<line x1="2794" y1="492.4" x2="2917" y2="492.4" stroke="#A80036" stroke-width="1.5"/><line x1="2794" y1="500.4" x2="2917" y2="500.4" stroke="#A80036" stroke-width="1.5"/></g>
<g><rect x="2555.6" y="701.4" width="99.6" height="48" fill="#FEFECE" stroke="#A80036" stroke-width="1.5" filter="url(#f1)"/>
<circle cx="2570.6" cy="717.4" r="11" fill="#ADD1B2" stroke="#A80036" stroke-width="1"/>
<text x="2570.6" y="724.0" font-size="17" font-weight="bold" text-anchor="middle" textLength="8.6" lengthAdjust="spacingAndGlyphs">C</text>
<text x="2617.7" y="721.6" font-size="12" text-anchor="middle" textLength="67.6" lengthAdjust="spacingAndGlyphs">Permission</text>
<line x1="2556.6" y1="733.4" x2="2654.2" y2="733.4" stroke="#A80036" stroke-width="1.5"/><line x1="2556.6" y1="741.4" x2="2654.2" y2="741.4" stroke="#A80036" stroke-width="1.5"/></g>
<g><rect x="2691.6" y="701.4" width="84" height="48" fill="#FEFECE" stroke="#A80036" stroke-width="1.5" filter="url(#f1)"/>
<circle cx="2706.6" cy="717.4" r="11" fill="#ADD1B2" stroke="#A80036" stroke-width="1"/>
<text x="2706.6" y="724.0" font-size="17" font-weight="bold" text-anchor="middle" textLength="8.6" lengthAdjust="spacingAndGlyphs">C</text>
<text x="2745.9" y="721.6" font-size="12" text-anchor="middle" textLength="53.8" lengthAdjust="spacingAndGlyphs">Privilege</text>
<line x1="2692.6" y1="733.4" x2="2774.6" y2="733.4" stroke="#A80036" stroke-width="1.5"/><line x1="2692.6" y1="741.4" x2="2774.6" y2="741.4" stroke="#A80036" stroke-width="1.5"/></g>
<g><rect x="3015.5" y="80.5" width="125" height="54" fill="#FEFECE" stroke="#A80036" stroke-width="1.5" filter="url(#f1)"/>
<circle cx="3030.5" cy="99.5" r="11" fill="#ADD1B2" stroke="#A80036" stroke-width="1"/>
<text x="3030.5" y="106.1" font-size="17" font-weight="bold" text-anchor="middle" textLength="8.6" lengthAdjust="spacingAndGlyphs">C</text>
<text x="3090.3" y="97.3" font-size="12" font-style="italic" text-anchor="middle" textLength="95.7" lengthAdjust="spacingAndGlyphs">&lt;&lt;ccm-core&gt;&gt;</text>
<text x="3090.3" y="110.8" font-size="12" text-anchor="middle" textLength="57.5" lengthAdjust="spacingAndGlyphs">Resource</text>
<line x1="3016.5" y1="118.5" x2="3139.5" y2="118.5" stroke="#A80036" stroke-width="1.5"/><line x1="3016.5" y1="126.5" x2="3139.5" y2="126.5" stroke="#A80036" stroke-width="1.5"/></g>
<g><rect x="3175.5" y="80.5" width="125" height="54" fill="#FEFECE" stroke="#A80036" stroke-width="1.5" filter="url(#f1)"/>
<circle cx="3190.5" cy="99.5" r="11" fill="#ADD1B2" stroke="#A80036" stroke-width="1"/>
<text x="3190.5" y="106.1" font-size="17" font-weight="bold" text-anchor="middle" textLength="8.6" lengthAdjust="spacingAndGlyphs">C</text>
<text x="3250.3" y="97.3" font-size="12" font-style="italic" text-anchor="middle" textLength="95.7" lengthAdjust="spacingAndGlyphs">&lt;&lt;ccm-core&gt;&gt;</text>
<text x="3250.3" y="110.8" font-size="12" text-anchor="middle" textLength="90.0" lengthAdjust="spacingAndGlyphs">ObjectContext</text>
<line x1="3176.5" y1="118.5" x2="3299.5" y2="118.5" stroke="#A80036" stroke-width="1.5"/><line x1="3176.5" y1="126.5" x2="3299.5" y2="126.5" stroke="#A80036" stroke-width="1.5"/></g>
<g><rect x="3335" y="80.5" width="125" height="54" fill="#FEFECE" stroke="#A80036" stroke-width="1.5" filter="url(#f1)"/>
<circle cx="3350" cy="99.5" r="11" fill="#ADD1B2" stroke="#A80036" stroke-width="1"/>
<text x="3350" y="106.1" font-size="17" font-weight="bold" text-anchor="middle" textLength="8.6" lengthAdjust="spacingAndGlyphs">C</text>
<text x="3409.8" y="97.3" font-size="12" font-style="italic" text-anchor="middle" textLength="95.7" lengthAdjust="spacingAndGlyphs">&lt;&lt;ccm-core&gt;&gt;</text>
<text x="3409.8" y="110.8" font-size="12" text-anchor="middle" textLength="76.8" lengthAdjust="spacingAndGlyphs">EmailAdress</text>
<line x1="3336" y1="118.5" x2="3459" y2="118.5" stroke="#A80036" stroke-width="1.5"/><line x1="3336" y1="126.5" x2="3459" y2="126.5" stroke="#A80036" stroke-width="1.5"/></g>
<g><rect x="3015.5" y="210.4" width="125" height="54" fill="#FEFECE" stroke="#A80036" stroke-width="1.5" filter="url(#f1)"/>
<circle cx="3030.5" cy="229.4" r="11" fill="#ADD1B2" stroke="#A80036" stroke-width="1"/>
<text x="3030.5" y="236.0" font-size="17" font-weight="bold" text-anchor="middle" textLength="8.6" lengthAdjust="spacingAndGlyphs">C</text>
<text x="3090.3" y="227.2" font-size="12" font-style="italic" text-anchor="middle" textLength="95.7" lengthAdjust="spacingAndGlyphs">&lt;&lt;ccm-core&gt;&gt;</text>
<text x="3090.3" y="240.7" font-size="12" text-anchor="middle" textLength="65.9" lengthAdjust="spacingAndGlyphs">ACSObject</text>
<line x1="3016.5" y1="248.4" x2="3139.5" y2="248.4" stroke="#A80036" stroke-width="1.5"/><line x1="3016.5" y1="256.4" x2="3139.5" y2="256.4" stroke="#A80036" stroke-width="1.5"/></g>
<g><rect x="3175.5" y="210.4" width="125" height="54" fill="#FEFECE" stroke="#A80036" stroke-width="1.5" filter="url(#f1)"/>
<circle cx="3190.5" cy="229.4" r="11" fill="#ADD1B2" stroke="#A80036" stroke-width="1"/>
<text x="3190.5" y="236.0" font-size="17" font-weight="bold" text-anchor="middle" textLength="8.6" lengthAdjust="spacingAndGlyphs">C</text>
<text x="3250.3" y="227.2" font-size="12" font-style="italic" text-anchor="middle" textLength="95.7" lengthAdjust="spacingAndGlyphs">&lt;&lt;ccm-core&gt;&gt;</text>
<text x="3250.3" y="240.7" font-size="12" text-anchor="middle" textLength="86.4" lengthAdjust="spacingAndGlyphs">ResourceType</text>
<line x1="3176.5" y1="248.4" x2="3299.5" y2="248.4" stroke="#A80036" stroke-width="1.5"/><line x1="3176.5" y1="256.4" x2="3299.5" y2="256.4" stroke="#A80036" stroke-width="1.5"/></g>
<g><rect x="3080.5" y="324.4" width="125" height="54" fill="#FEFECE" stroke="#A80036" stroke-width="1.5" filter="url(#f1)"/>
<circle cx="3095.5" cy="343.4" r="11" fill="#ADD1B2" stroke="#A80036" stroke-width="1"/>
<text x="3095.5" y="350.0" font-size="17" font-weight="bold" text-anchor="middle" textLength="8.6" lengthAdjust="spacingAndGlyphs">C</text>
<text x="3155.3" y="341.2" font-size="12" font-style="italic" text-anchor="middle" textLength="95.7" lengthAdjust="spacingAndGlyphs">&lt;&lt;ccm-core&gt;&gt;</text>
<text x="3155.3" y="354.7" font-size="12" text-anchor="middle" textLength="32.2" lengthAdjust="spacingAndGlyphs">Party</text>
<line x1="3081.5" y1="362.4" x2="3204.5" y2="362.4" stroke="#A80036" stroke-width="1.5"/><line x1="3081.5" y1="370.4" x2="3204.5" y2="370.4" stroke="#A80036" stroke-width="1.5"/></g>
<g><rect x="3031.2" y="454.4" width="125" height="54" fill="#FEFECE" stroke="#A80036" stroke-width="1.5" filter="url(#f1)"/>
<circle cx="3046.2" cy="473.4" r="11" fill="#ADD1B2" stroke="#A80036" stroke-width="1"/>
<text x="3046.2" y="480.0" font-size="17" font-weight="bold" text-anchor="middle" textLength="8.6" lengthAdjust="spacingAndGlyphs">C</text>
<text x="3106.0" y="471.2" font-size="12" font-style="italic" text-anchor="middle" textLength="95.7" lengthAdjust="spacingAndGlyphs">&lt;&lt;ccm-core&gt;&gt;</text>
<text x="3106.0" y="484.7" font-size="12" text-anchor="middle" textLength="38.2" lengthAdjust="spacingAndGlyphs">Group</text>
<line x1="3032.2" y1="492.4" x2="3155.2" y2="492.4" stroke="#A80036" stroke-width="1.5"/><line x1="3032.2" y1="500.4" x2="3155.2" y2="500.4" stroke="#A80036" stroke-width="1.5"/></g>
<g><rect x="3335" y="454.4" width="125" height="54" fill="#FEFECE" stroke="#A80036" stroke-width="1.5" filter="url(#f1)"/>
<circle cx="3350" cy="473.4" r="11" fill="#ADD1B2" stroke="#A80036" stroke-width="1"/>
<text x="3350" y="480.0" font-size="17" font-weight="bold" text-anchor="middle" textLength="8.6" lengthAdjust="spacingAndGlyphs">C</text>
<text x="3409.8" y="471.2" font-size="12" font-style="italic" text-anchor="middle" textLength="95.7" lengthAdjust="spacingAndGlyphs">&lt;&lt;ccm-core&gt;&gt;</text>
<text x="3409.8" y="484.7" font-size="12" text-anchor="middle" textLength="67.0" lengthAdjust="spacingAndGlyphs">PartyEmail</text>
<line x1="3336" y1="492.4" x2="3459" y2="492.4" stroke="#A80036" stroke-width="1.5"/><line x1="3336" y1="500.4" x2="3459" y2="500.4" stroke="#A80036" stroke-width="1.5"/></g>
<g><rect x="3015" y="568.2" width="125" height="54" fill="#FEFECE" stroke="#A80036" stroke-width="1.5" filter="url(#f1)"/>
<circle cx="3030" cy="587.2" r="11" fill="#ADD1B2" stroke="#A80036" stroke-width="1"/>
<text x="3030" y="593.8000000000001" font-size="17" font-weight="bold" text-anchor="middle" textLength="8.6" lengthAdjust="spacingAndGlyphs">C</text>
<text x="3089.8" y="585.0" font-size="12" font-style="italic" text-anchor="middle" textLength="95.7" lengthAdjust="spacingAndGlyphs">&lt;&lt;ccm-core&gt;&gt;</text>
<text x="3089.8" y="598.5" font-size="12" text-anchor="middle" textLength="27.0" lengthAdjust="spacingAndGlyphs">Role</text>
<line x1="3016" y1="606.2" x2="3139" y2="606.2" stroke="#A80036" stroke-width="1.5"/><line x1="3016" y1="614.2" x2="3139" y2="614.2" stroke="#A80036" stroke-width="1.5"/></g>
<g><rect x="3175.4" y="568.2" width="125" height="54" fill="#FEFECE" stroke="#A80036" stroke-width="1.5" filter="url(#f1)"/>
<circle cx="3190.4" cy="587.2" r="11" fill="#ADD1B2" stroke="#A80036" stroke-width="1"/>
<text x="3190.4" y="593.8000000000001" font-size="17" font-weight="bold" text-anchor="middle" textLength="8.6" lengthAdjust="spacingAndGlyphs">C</text>
<text x="3250.2" y="585.0" font-size="12" font-style="italic" text-anchor="middle" textLength="95.7" lengthAdjust="spacingAndGlyphs">&lt;&lt;ccm-core&gt;&gt;</text>
<text x="3250.2" y="598.5" font-size="12" text-anchor="middle" textLength="28.6" lengthAdjust="spacingAndGlyphs">User</text>
<line x1="3176.4" y1="606.2" x2="3299.4" y2="606.2" stroke="#A80036" stroke-width="1.5"/><line x1="3176.4" y1="614.2" x2="3299.4" y2="614.2" stroke="#A80036" stroke-width="1.5"/></g>
<g><rect x="3100.5" y="698.4" width="125" height="54" fill="#FEFECE" stroke="#A80036" stroke-width="1.5" filter="url(#f1)"/>
<circle cx="3115.5" cy="717.4" r="11" fill="#ADD1B2" stroke="#A80036" stroke-width="1"/>
<text x="3115.5" y="724.0" font-size="17" font-weight="bold" text-anchor="middle" textLength="8.6" lengthAdjust="spacingAndGlyphs">C</text>
<text x="3175.3" y="715.2" font-size="12" font-style="italic" text-anchor="middle" textLength="95.7" lengthAdjust="spacingAndGlyphs">&lt;&lt;ccm-core&gt;&gt;</text>
<text x="3175.3" y="728.7" font-size="12" text-anchor="middle" textLength="79.2" lengthAdjust="spacingAndGlyphs">PersonName</text>
<line x1="3101.5" y1="736.4" x2="3224.5" y2="736.4" stroke="#A80036" stroke-width="1.5"/><line x1="3101.5" y1="744.4" x2="3224.5" y2="744.4" stroke="#A80036" stroke-width="1.5"/></g>
<g><rect x="3260.5" y="698.4" width="153" height="54" fill="#FEFECE" stroke="#A80036" stroke-width="1.5" filter="url(#f1)"/>
<circle cx="3275.5" cy="717.4" r="11" fill="#ADD1B2" stroke="#A80036" stroke-width="1"/>
<text x="3275.5" y="724.0" font-size="17" font-weight="bold" text-anchor="middle" textLength="8.6" lengthAdjust="spacingAndGlyphs">C</text>
<text x="3349.3" y="715.2" font-size="12" font-style="italic" text-anchor="middle" textLength="95.7" lengthAdjust="spacingAndGlyphs">&lt;&lt;ccm-core&gt;&gt;</text>
<text x="3349.3" y="728.7" font-size="12" text-anchor="middle" textLength="120.6" lengthAdjust="spacingAndGlyphs">UserAuthentication</text>
<line x1="3261.5" y1="736.4" x2="3412.5" y2="736.4" stroke="#A80036" stroke-width="1.5"/><line x1="3261.5" y1="744.4" x2="3412.5" y2="744.4" stroke="#A80036" stroke-width="1.5"/></g>
<g><rect x="3521" y="80.5" width="139.7" height="54" fill="#FEFECE" stroke="#A80036" stroke-width="1.5" filter="url(#f1)"/>
<circle cx="3536" cy="99.5" r="11" fill="#ADD1B2" stroke="#A80036" stroke-width="1"/>
<text x="3536" y="106.1" font-size="17" font-weight="bold" text-anchor="middle" textLength="8.6" lengthAdjust="spacingAndGlyphs">C</text>
<text x="3603.2" y="97.3" font-size="12" font-style="italic" text-anchor="middle" textLength="95.7" lengthAdjust="spacingAndGlyphs">&lt;&lt;ccm-core&gt;&gt;</text>
<text x="3603.2" y="110.8" font-size="12" text-anchor="middle" textLength="107.7" lengthAdjust="spacingAndGlyphs">CategoryPurpose</text>
<line x1="3522" y1="118.5" x2="3659.7" y2="118.5" stroke="#A80036" stroke-width="1.5"/><line x1="3522" y1="126.5" x2="3659.7" y2="126.5" stroke="#A80036" stroke-width="1.5"/></g>
<g><rect x="3532" y="210.4" width="125" height="54" fill="#FEFECE" stroke="#A80036" stroke-width="1.5" filter="url(#f1)"/>
<circle cx="3547" cy="229.4" r="11" fill="#ADD1B2" stroke="#A80036" stroke-width="1"/>
<text x="3547" y="236.0" font-size="17" font-weight="bold" text-anchor="middle" textLength="8.6" lengthAdjust="spacingAndGlyphs">C</text>
<text x="3606.8" y="227.2" font-size="12" font-style="italic" text-anchor="middle" textLength="95.7" lengthAdjust="spacingAndGlyphs">&lt;&lt;ccm-core&gt;&gt;</text>
<text x="3606.8" y="240.7" font-size="12" text-anchor="middle" textLength="57.3" lengthAdjust="spacingAndGlyphs">Category</text>
<line x1="3533" y1="248.4" x2="3656" y2="248.4" stroke="#A80036" stroke-width="1.5"/><line x1="3533" y1="256.4" x2="3656" y2="256.4" stroke="#A80036" stroke-width="1.5"/></g>
<g><rect x="3516" y="324.4" width="160.3" height="54" fill="#FEFECE" stroke="#A80036" stroke-width="1.5" filter="url(#f1)"/>
<circle cx="3531" cy="343.4" r="11" fill="#ADD1B2" stroke="#A80036" stroke-width="1"/>
<text x="3531" y="350.0" font-size="17" font-weight="bold" text-anchor="middle" textLength="8.6" lengthAdjust="spacingAndGlyphs">C</text>
<text x="3608.4" y="341.2" font-size="12" font-style="italic" text-anchor="middle" textLength="95.7" lengthAdjust="spacingAndGlyphs">&lt;&lt;ccm-core&gt;&gt;</text>
<text x="3608.4" y="354.7" font-size="12" text-anchor="middle" textLength="131.6" lengthAdjust="spacingAndGlyphs">CategoryLocalization</text>
<line x1="3517" y1="362.4" x2="3675.3" y2="362.4" stroke="#A80036" stroke-width="1.5"/><line x1="3517" y1="370.4" x2="3675.3" y2="370.4" stroke="#A80036" stroke-width="1.5"/></g>
<g><rect x="3712" y="324.4" width="125" height="54" fill="#FEFECE" stroke="#A80036" stroke-width="1.5" filter="url(#f1)"/>
<circle cx="3727" cy="343.4" r="11" fill="#ADD1B2" stroke="#A80036" stroke-width="1"/>
<text x="3727" y="350.0" font-size="17" font-weight="bold" text-anchor="middle" textLength="8.6" lengthAdjust="spacingAndGlyphs">C</text>
<text x="3786.8" y="341.2" font-size="12" font-style="italic" text-anchor="middle" textLength="95.7" lengthAdjust="spacingAndGlyphs">&lt;&lt;ccm-core&gt;&gt;</text>
<text x="3786.8" y="354.7" font-size="12" text-anchor="middle" textLength="72.6" lengthAdjust="spacingAndGlyphs">UseContext</text>
<line x1="3713" y1="362.4" x2="3836" y2="362.4" stroke="#A80036" stroke-width="1.5"/><line x1="3713" y1="370.4" x2="3836" y2="370.4" stroke="#A80036" stroke-width="1.5"/></g>
<g><rect x="4054" y="80.5" width="125" height="54" fill="#FEFECE" stroke="#A80036" stroke-width="1.5" filter="url(#f1)"/>
<circle cx="4069" cy="99.5" r="11" fill="#ADD1B2" stroke="#A80036" stroke-width="1"/>
<text x="4069" y="106.1" font-size="17" font-weight="bold" text-anchor="middle" textLength="8.6" lengthAdjust="spacingAndGlyphs">C</text>
<text x="4128.8" y="97.3" font-size="12" font-style="italic" text-anchor="middle" textLength="95.7" lengthAdjust="spacingAndGlyphs">&lt;&lt;ccm-core&gt;&gt;</text>
<text x="4128.8" y="110.8" font-size="12" text-anchor="middle" textLength="55.9" lengthAdjust="spacingAndGlyphs">KeyStore</text>
<line x1="4055" y1="118.5" x2="4178" y2="118.5" stroke="#A80036" stroke-width="1.5"/><line x1="4055" y1="126.5" x2="4178" y2="126.5" stroke="#A80036" stroke-width="1.5"/></g>
<g><rect x="3895" y="210.4" width="125" height="54" fill="#FEFECE" stroke="#A80036" stroke-width="1.5" filter="url(#f1)"/>
<circle cx="3910" cy="229.4" r="11" fill="#ADD1B2" stroke="#A80036" stroke-width="1"/>
<text x="3910" y="236.0" font-size="17" font-weight="bold" text-anchor="middle" textLength="8.6" lengthAdjust="spacingAndGlyphs">C</text>
<text x="3969.8" y="227.2" font-size="12" font-style="italic" text-anchor="middle" textLength="95.7" lengthAdjust="spacingAndGlyphs">&lt;&lt;ccm-core&gt;&gt;</text>
<text x="3969.8" y="240.7" font-size="12" text-anchor="middle" textLength="27.1" lengthAdjust="spacingAndGlyphs">Task</text>
<line x1="3896" y1="248.4" x2="4019" y2="248.4" stroke="#A80036" stroke-width="1.5"/><line x1="3896" y1="256.4" x2="4019" y2="256.4" stroke="#A80036" stroke-width="1.5"/></g>
<g><rect x="3895" y="324.4" width="125" height="54" fill="#FEFECE" stroke="#A80036" stroke-width="1.5" filter="url(#f1)"/>
<circle cx="3910" cy="343.4" r="11" fill="#ADD1B2" stroke="#A80036" stroke-width="1"/>
<text x="3910" y="350.0" font-size="17" font-weight="bold" text-anchor="middle" textLength="8.6" lengthAdjust="spacingAndGlyphs">C</text>
<text x="3969.8" y="341.2" font-size="12" font-style="italic" text-anchor="middle" textLength="95.7" lengthAdjust="spacingAndGlyphs">&lt;&lt;ccm-core&gt;&gt;</text>
<text x="3969.8" y="354.7" font-size="12" text-anchor="middle" textLength="57.6" lengthAdjust="spacingAndGlyphs">Workflow</text>
<line x1="3896" y1="362.4" x2="4019" y2="362.4" stroke="#A80036" stroke-width="1.5"/><line x1="3896" y1="370.4" x2="4019" y2="370.4" stroke="#A80036" stroke-width="1.5"/></g>
<g><rect x="4055" y="324.4" width="125" height="54" fill="#FEFECE" stroke="#A80036" stroke-width="1.5" filter="url(#f1)"/>
<circle cx="4070" cy="343.4" r="11" fill="#ADD1B2" stroke="#A80036" stroke-width="1"/>
<text x="4070" y="350.0" font-size="17" font-weight="bold" text-anchor="middle" textLength="8.6" lengthAdjust="spacingAndGlyphs">C</text>
<text x="4129.8" y="341.2" font-size="12" font-style="italic" text-anchor="middle" textLength="95.7" lengthAdjust="spacingAndGlyphs">&lt;&lt;ccm-core&gt;&gt;</text>
<text x="4129.8" y="354.7" font-size="12" text-anchor="middle" textLength="88.5" lengthAdjust="spacingAndGlyphs">TaskComment</text>
<line x1="4056" y1="362.4" x2="4179" y2="362.4" stroke="#A80036" stroke-width="1.5"/><line x1="4056" y1="370.4" x2="4179" y2="370.4" stroke="#A80036" stroke-width="1.5"/></g>
<g><rect x="4215" y="324.4" width="125" height="54" fill="#FEFECE" stroke="#A80036" stroke-width="1.5" filter="url(#f1)"/>
<circle cx="4230" cy="343.4" r="11" fill="#ADD1B2" stroke="#A80036" stroke-width="1"/>
<text x="4230" y="350.0" font-size="17" font-weight="bold" text-anchor="middle" textLength="8.6" lengthAdjust="spacingAndGlyphs">C</text>
<text x="4289.8" y="341.2" font-size="12" font-style="italic" text-anchor="middle" textLength="95.7" lengthAdjust="spacingAndGlyphs">&lt;&lt;ccm-core&gt;&gt;</text>
<text x="4289.8" y="354.7" font-size="12" text-anchor="middle" textLength="55.7" lengthAdjust="spacingAndGlyphs">UserTask</text>
<line x1="4216" y1="362.4" x2="4339" y2="362.4" stroke="#A80036" stroke-width="1.5"/><line x1="4216" y1="370.4" x2="4339" y2="370.4" stroke="#A80036" stroke-width="1.5"/></g>
<g><rect x="3895" y="454.4" width="145" height="54" fill="#FEFECE" stroke="#A80036" stroke-width="1.5" filter="url(#f1)"/>
<circle cx="3910" cy="473.4" r="11" fill="#ADD1B2" stroke="#A80036" stroke-width="1"/>
<text x="3910" y="480.0" font-size="17" font-weight="bold" text-anchor="middle" textLength="8.6" lengthAdjust="spacingAndGlyphs">C</text>
<text x="3979.8" y="471.2" font-size="12" font-style="italic" text-anchor="middle" textLength="95.7" lengthAdjust="spacingAndGlyphs">&lt;&lt;ccm-core&gt;&gt;</text>
<text x="3979.8" y="484.7" font-size="12" text-anchor="middle" textLength="114.8" lengthAdjust="spacingAndGlyphs">WorkflowTemplate</text>
<line x1="3896" y1="492.4" x2="4039" y2="492.4" stroke="#A80036" stroke-width="1.5"/><line x1="3896" y1="500.4" x2="4039" y2="500.4" stroke="#A80036" stroke-width="1.5"/></g>
<path d="M58.0,327.5 C51.7,320.4 28.7,302.1 20.0,285.0 C11.3,267.9 7.3,242.2 6.0,225.0 C4.7,207.8 8.0,192.3 12.0,182.0 C16.0,171.7 18.7,167.7 30.0,163.0 C41.3,158.3 51.7,157.0 80.0,154.0 C108.3,151.0 135.7,148.5 200.0,145.0 C264.3,141.5 344.0,136.8 466.0,133.0 C588.0,129.2 776.7,124.8 932.0,122.0 C1087.3,119.2 1248.0,117.5 1398.0,116.0 C1548.0,114.5 1648.3,114.0 1832.0,113.0 C2015.7,112.0 2322.0,110.7 2500.0,110.0 C2678.0,109.3 2817.3,109.0 2900.0,108.8 C2982.7,108.6 2980.0,108.6 2996.0,108.6" fill="none" stroke="#A80036" stroke-width="1"/>
<polygon points="3016.0,108.5 2996.0,115.6 2996.0,101.6" fill="#fff" stroke="#A80036" stroke-width="1"/>
<path d="M85.0,213.4 C87.8,209.2 95.8,195.4 102.0,188.0 C108.2,180.6 113.2,173.7 122.0,169.0 C130.8,164.3 132.0,162.8 155.0,160.0 C178.0,157.2 208.2,154.3 260.0,152.0 C311.8,149.7 354.0,149.0 466.0,146.0 C578.0,143.0 776.7,137.2 932.0,134.0 C1087.3,130.8 1248.0,128.8 1398.0,127.0 C1548.0,125.2 1648.3,125.2 1832.0,123.0 C2015.7,120.8 2322.0,115.8 2500.0,113.5 C2678.0,111.2 2817.3,109.8 2900.0,109.0 C2982.7,108.2 2980.0,108.7 2996.0,108.6" fill="none" stroke="#A80036" stroke-width="1"/>
<polygon points="3016.0,108.5 2996.0,115.6 2996.0,101.6" fill="#fff" stroke="#A80036" stroke-width="1"/>
<path d="M248.5,236.0 C284.8,234.8 352.1,233.0 466.0,229.0 C579.9,225.0 776.7,217.2 932.0,212.0 C1087.3,206.8 1242.7,202.2 1398.0,197.5 C1553.3,192.8 1680.3,188.8 1864.0,184.0 C2047.7,179.2 2316.3,172.8 2500.0,169.0 C2683.7,165.2 2832.7,163.0 2966.0,161.5 C3099.3,160.0 3166.7,160.1 3300.0,160.0 C3433.3,159.9 3677.3,160.6 3766.0,161.0 C3854.7,161.4 3813.0,159.5 3832.0,162.5 C3851.0,165.5 3863.7,171.0 3880.0,179.0 C3896.3,187.0 3921.4,205.3 3929.7,210.6" fill="none" stroke="#A80036" stroke-width="1"/>
<path d="M248.5,237.5 C284.8,237.6 352.1,237.8 466.0,238.0 C579.9,238.2 776.7,238.3 932.0,239.0 C1087.3,239.7 1242.7,241.3 1398.0,242.0 C1553.3,242.7 1719.3,243.2 1864.0,243.0 C2008.7,242.8 2160.0,241.8 2266.0,241.0 C2372.0,240.2 2394.3,238.3 2500.0,238.0 C2605.7,237.7 2817.3,238.9 2900.0,238.9 C2982.7,238.9 2980.0,237.9 2996.0,237.7" fill="none" stroke="#A80036" stroke-width="1"/>
<polygon points="3016.0,237.5 2996.1,244.7 2995.9,230.7" fill="#fff" stroke="#A80036" stroke-width="1"/>
<path d="M76.5,261.4 L77.0,327.4" fill="none" stroke="#A80036" stroke-width="1"/>
<path d="M92.0,457.4 L83.8,395.2" fill="none" stroke="#A80036" stroke-width="1"/>
<polygon points="81.2,375.4 90.8,394.3 76.9,396.1" fill="#fff" stroke="#A80036" stroke-width="1"/>
<path d="M390.0,324.4 C395.0,320.0 407.3,305.4 420.0,298.0 C432.7,290.6 446.0,285.3 466.0,280.0 C486.0,274.7 462.3,271.0 540.0,266.0 C617.7,261.0 789.0,253.5 932.0,250.0 C1075.0,246.5 1242.7,246.0 1398.0,245.0 C1553.3,244.0 1680.3,245.0 1864.0,244.0 C2047.7,243.0 2327.3,240.3 2500.0,239.0 C2672.7,237.7 2817.3,236.7 2900.0,236.4 C2982.7,236.1 2980.0,237.2 2996.0,237.3" fill="none" stroke="#A80036" stroke-width="1"/>
<polygon points="3016.0,237.5 2995.9,244.3 2996.1,230.3" fill="#fff" stroke="#A80036" stroke-width="1"/>
<path d="M708.5,324.4 C713.8,319.3 729.6,301.8 740.0,294.0 C750.4,286.2 752.7,281.8 771.0,277.5 C789.3,273.2 823.2,270.5 850.0,268.0 C876.8,265.5 840.7,264.7 932.0,262.5 C1023.3,260.3 1242.7,257.4 1398.0,255.0 C1553.3,252.6 1680.3,250.6 1864.0,248.0 C2047.7,245.4 2327.3,241.3 2500.0,239.5 C2672.7,237.7 2817.3,237.3 2900.0,237.0 C2982.7,236.7 2980.0,237.3 2996.0,237.4" fill="none" stroke="#A80036" stroke-width="1"/>
<polygon points="3016.0,237.5 2996.0,244.4 2996.0,230.4" fill="#fff" stroke="#A80036" stroke-width="1"/>
<path d="M893.0,324.4 C896.7,321.0 902.2,311.7 915.0,304.0 C927.8,296.3 947.5,284.3 970.0,278.0 C992.5,271.7 978.7,269.2 1050.0,266.0 C1121.3,262.8 1262.3,261.6 1398.0,258.6 C1533.7,255.6 1680.3,251.3 1864.0,248.0 C2047.7,244.7 2327.3,240.6 2500.0,239.0 C2672.7,237.4 2817.3,238.5 2900.0,238.3 C2982.7,238.1 2980.0,237.7 2996.0,237.6" fill="none" stroke="#A80036" stroke-width="1"/>
<polygon points="3016.0,237.5 2996.0,244.6 2996.0,230.6" fill="#fff" stroke="#A80036" stroke-width="1"/>
<path d="M1072.0,324.4 C1076.7,320.3 1088.2,307.7 1100.0,300.0 C1111.8,292.3 1124.7,283.3 1143.0,278.0 C1161.3,272.7 1167.5,270.5 1210.0,268.0 C1252.5,265.5 1289.0,266.2 1398.0,263.0 C1507.0,259.8 1680.3,253.0 1864.0,249.0 C2047.7,245.0 2327.3,241.1 2500.0,239.0 C2672.7,236.9 2817.3,236.5 2900.0,236.2 C2982.7,235.9 2980.0,237.1 2996.0,237.3" fill="none" stroke="#A80036" stroke-width="1"/>
<polygon points="3016.0,237.5 2995.9,244.3 2996.1,230.3" fill="#fff" stroke="#A80036" stroke-width="1"/>
<path d="M973.5,568.2 C986.2,554.7 1024.6,515.0 1050.0,487.0 C1075.4,459.0 1103.3,428.1 1126.0,400.0 C1148.7,371.9 1168.9,338.4 1186.0,318.7 C1203.1,299.0 1216.0,289.9 1228.8,282.0 C1241.6,274.1 1234.5,274.8 1263.0,271.5 C1291.5,268.2 1299.8,265.6 1400.0,262.0 C1500.2,258.4 1680.7,253.7 1864.0,250.0 C2047.3,246.3 2327.3,241.8 2500.0,240.0 C2672.7,238.2 2817.3,239.6 2900.0,239.2 C2982.7,238.8 2980.0,238.0 2996.0,237.8" fill="none" stroke="#A80036" stroke-width="1"/>
<polygon points="3016.0,237.5 2996.1,244.8 2995.9,230.8" fill="#fff" stroke="#A80036" stroke-width="1"/>
<path d="M2900.0,238.0 C2833.3,238.5 2672.7,238.7 2500.0,241.0 C2327.3,243.3 2047.3,248.7 1864.0,252.0 C1680.7,255.3 1497.3,256.8 1400.0,260.8 C1302.7,264.8 1305.7,266.9 1280.0,275.8 C1254.3,284.7 1252.4,301.8 1246.0,314.0 C1239.6,326.2 1239.5,335.9 1241.6,348.8 C1243.7,361.8 1251.6,382.4 1258.8,391.7 C1266.0,401.0 1261.0,402.0 1284.5,404.5 C1308.0,407.0 1318.8,405.8 1400.0,406.7 C1481.2,407.6 1594.3,409.4 1772.0,410.0 C1949.7,410.6 2322.7,405.8 2466.0,410.0 C2609.3,414.2 2577.4,425.7 2632.0,435.0 C2686.6,444.3 2766.5,460.8 2793.4,466.0" fill="none" stroke="#A80036" stroke-width="1"/>
<path d="M2555.6,724.2 C2530.2,723.6 2461.9,723.0 2403.0,720.7 C2344.1,718.5 2269.0,714.9 2202.0,710.7 C2135.0,706.5 2063.7,703.1 2001.0,695.6 C1938.3,688.1 1863.3,673.0 1825.6,665.5 C1787.9,658.0 1787.6,658.0 1775.0,650.4 C1762.4,642.8 1758.8,633.4 1750.0,620.0 C1741.2,606.6 1727.5,584.2 1722.0,570.0 C1716.5,555.8 1717.4,546.7 1717.0,535.0 C1716.6,523.3 1715.5,515.1 1719.6,500.0 C1723.7,484.9 1732.8,459.4 1741.5,444.4 C1750.2,429.4 1766.9,415.7 1772.0,410.0" fill="none" stroke="#A80036" stroke-width="1"/>
<path d="M1772.0,410.0 C1785.0,409.4 1823.7,407.4 1850.0,406.5 C1876.3,405.6 1877.3,405.0 1930.0,404.5 C1982.7,404.0 2049.0,403.8 2166.0,403.5 C2283.0,403.2 2496.8,402.7 2632.0,402.5 C2767.2,402.3 2909.0,404.1 2977.0,402.5 C3045.0,400.9 3022.8,397.3 3040.0,393.0 C3057.2,388.7 3073.8,379.4 3080.5,376.7" fill="none" stroke="#A80036" stroke-width="1"/>
<path d="M1530.5,324.4 C1535.4,319.7 1549.6,303.8 1560.0,296.0 C1570.4,288.2 1569.7,282.5 1593.0,277.5 C1616.3,272.5 1654.8,268.9 1700.0,266.0 C1745.2,263.1 1769.7,262.7 1864.0,260.0 C1958.3,257.3 2160.0,253.3 2266.0,250.0 C2372.0,246.7 2394.3,242.0 2500.0,240.0 C2605.7,238.0 2817.3,238.2 2900.0,237.8 C2982.7,237.4 2980.0,237.6 2996.0,237.6" fill="none" stroke="#A80036" stroke-width="1"/>
<polygon points="3016.0,237.5 2996.0,244.6 2996.0,230.6" fill="#fff" stroke="#A80036" stroke-width="1"/>
<path d="M1698.0,324.4 C1702.5,319.7 1715.0,303.9 1725.0,296.0 C1735.0,288.1 1734.8,282.2 1758.0,277.0 C1781.2,271.8 1779.3,268.8 1864.0,265.0 C1948.7,261.2 2160.0,258.0 2266.0,254.0 C2372.0,250.0 2394.3,244.0 2500.0,241.0 C2605.7,238.0 2817.3,236.6 2900.0,236.0 C2982.7,235.4 2980.0,237.0 2996.0,237.2" fill="none" stroke="#A80036" stroke-width="1"/>
<polygon points="3016.0,237.5 2995.9,244.2 2996.1,230.2" fill="#fff" stroke="#A80036" stroke-width="1"/>
<path d="M1895.0,324.4 C1900.8,319.5 1918.3,302.9 1930.0,295.0 C1941.7,287.1 1936.7,282.5 1965.0,277.0 C1993.3,271.5 2049.8,266.5 2100.0,262.0 C2150.2,257.5 2199.3,253.7 2266.0,250.0 C2332.7,246.3 2394.3,241.8 2500.0,240.0 C2605.7,238.2 2817.3,239.9 2900.0,239.5 C2982.7,239.1 2980.0,238.1 2996.0,237.8" fill="none" stroke="#A80036" stroke-width="1"/>
<polygon points="3016.0,237.5 2996.1,244.8 2995.9,230.8" fill="#fff" stroke="#A80036" stroke-width="1"/>
<path d="M2709.0,324.4 C2705.0,319.0 2697.2,299.8 2685.0,292.0 C2672.8,284.2 2666.8,281.5 2636.0,277.5 C2605.2,273.5 2561.7,271.8 2500.0,268.0 C2438.3,264.2 2372.0,258.3 2266.0,255.0 C2160.0,251.7 1931.0,249.2 1864.0,248.0" fill="none" stroke="#A80036" stroke-width="1"/>
<path d="M2756.0,324.4 C2761.7,319.2 2776.0,302.1 2790.0,293.0 C2804.0,283.9 2810.7,274.7 2840.0,270.0 C2869.3,265.3 2919.3,265.7 2966.0,265.0 C3012.7,264.3 3088.4,266.6 3120.0,266.0 C3151.6,265.4 3149.8,262.3 3155.8,261.5 C3161.8,260.7 3155.8,261.4 3155.8,261.4" fill="none" stroke="#A80036" stroke-width="1"/>
<polygon points="3175.8,260.6 3156.1,268.4 3155.5,254.4" fill="#fff" stroke="#A80036" stroke-width="1"/>
<path d="M2904.6,324.4 C2909.8,313.9 2927.2,279.9 2935.5,261.6 C2943.8,243.3 2946.5,228.6 2954.4,214.4 C2962.3,200.2 2974.0,186.8 2982.8,176.7 C2991.6,166.6 3001.2,159.1 3007.0,154.0 C3012.8,148.9 3015.7,147.6 3017.4,146.3" fill="none" stroke="#A80036" stroke-width="1"/>
<polygon points="3033.5,134.4 3021.6,151.9 3013.3,140.7" fill="#fff" stroke="#A80036" stroke-width="1"/>
<path d="M2732.0,378.4 L2732.0,701.4" fill="none" stroke="#A80036" stroke-width="1"/>
<path d="M2766.0,378.4 C2771.7,381.7 2778.2,392.2 2800.0,398.0 C2821.8,403.8 2865.3,408.0 2897.0,413.0 C2928.7,418.0 2964.0,421.1 2990.0,428.0 C3016.0,434.9 3042.5,450.0 3053.0,454.4" fill="none" stroke="#A80036" stroke-width="1"/>
<path d="M2934.7,378.4 C2940.6,382.0 2950.3,387.3 2970.0,400.0 C2989.7,412.7 3039.2,445.3 3053.0,454.4" fill="none" stroke="#A80036" stroke-width="1"/>
<path d="M2918.6,506.8 C2930.5,510.7 2960.1,521.5 2990.0,530.0 C3019.9,538.5 3067.1,550.5 3098.0,557.5 C3128.9,564.5 3162.5,569.6 3175.4,572.0" fill="none" stroke="#A80036" stroke-width="1"/>
<path d="M2441.7,491.8 C2473.4,495.7 2558.6,507.0 2632.0,515.0 C2705.4,523.0 2804.3,533.3 2882.0,540.0 C2959.7,546.7 3049.1,550.0 3098.0,555.0 C3146.9,560.0 3162.5,567.5 3175.4,570.0" fill="none" stroke="#A80036" stroke-width="1"/>
<path d="M2621.0,701.4 C2625.0,697.0 2635.7,683.1 2645.0,675.0 C2654.3,666.9 2659.5,656.7 2677.0,652.5 C2694.5,648.3 2679.8,650.7 2750.0,650.0 C2820.2,649.3 3029.7,649.3 3098.0,648.5 C3166.3,647.7 3142.2,649.4 3160.0,645.0 C3177.8,640.6 3197.3,626.0 3204.8,622.2" fill="none" stroke="#A80036" stroke-width="1"/>
<path d="M3113.5,134.4 L3195.2,198.1" fill="none" stroke="#A80036" stroke-width="1"/>
<polygon points="3211.0,210.4 3190.9,203.6 3199.5,192.6" fill="#fff" stroke="#A80036" stroke-width="1"/>
<path d="M3201.0,134.4 L3114.6,198.5" fill="none" stroke="#A80036" stroke-width="1"/>
<polygon points="3098.5,210.4 3110.4,192.9 3118.7,204.1" fill="#fff" stroke="#A80036" stroke-width="1"/>
<path d="M3543.5,134.4 C3537.9,137.0 3523.1,145.8 3510.0,150.0 C3496.9,154.2 3500.0,157.8 3465.0,159.5 C3430.0,161.2 3347.5,159.6 3300.0,160.0 C3252.5,160.4 3208.3,157.8 3180.0,162.0 C3151.7,166.2 3140.8,179.1 3130.0,185.0 C3119.2,190.9 3117.7,195.4 3115.3,197.5" fill="none" stroke="#A80036" stroke-width="1"/>
<polygon points="3100.0,210.4 3110.7,192.1 3119.8,202.8" fill="#fff" stroke="#A80036" stroke-width="1"/>
<path d="M3561.0,210.4 C3554.2,204.5 3538.5,183.3 3520.0,175.0 C3501.5,166.7 3486.7,163.1 3450.0,160.5 C3413.3,157.9 3345.0,159.4 3300.0,159.5 C3255.0,159.6 3208.3,156.6 3180.0,161.0 C3151.7,165.4 3140.5,180.0 3130.0,186.0 C3119.5,192.0 3119.2,195.4 3117.1,197.3" fill="none" stroke="#A80036" stroke-width="1"/>
<polygon points="3102.0,210.4 3112.5,192.0 3121.7,202.5" fill="#fff" stroke="#A80036" stroke-width="1"/>
<path d="M3592.5,134.4 L3592.5,210.4" fill="none" stroke="#A80036" stroke-width="1"/>
<path d="M3595.0,264.4 L3595.0,324.4" fill="none" stroke="#A80036" stroke-width="1"/>
<path d="M3655.0,262.0 C3665.0,266.3 3699.4,277.6 3715.0,288.0 C3730.6,298.4 3743.1,318.3 3748.7,324.4" fill="none" stroke="#A80036" stroke-width="1"/>
<path d="M3650.0,264.4 C3662.5,268.0 3707.7,276.0 3725.0,286.0 C3742.3,296.0 3748.9,318.0 3753.7,324.4" fill="none" stroke="#A80036" stroke-width="1"/>
<path d="M3561.8,324.4 C3548.2,318.7 3515.6,298.7 3480.0,290.0 C3444.4,281.3 3394.7,276.0 3348.0,272.0 C3301.3,268.0 3231.3,267.7 3200.0,266.0 C3168.7,264.3 3166.6,262.7 3160.0,262.0 C3153.4,261.3 3160.5,262.0 3160.5,262.0" fill="none" stroke="#A80036" stroke-width="1"/>
<polygon points="3140.6,260.6 3161.1,255.1 3160.0,269.0" fill="#fff" stroke="#A80036" stroke-width="1"/>
<path d="M3927.4,324.4 C3922.8,319.7 3912.9,303.4 3900.0,296.0 C3887.1,288.6 3872.3,283.9 3850.0,279.7 C3827.7,275.5 3836.8,272.8 3766.0,271.0 C3695.2,269.2 3519.3,269.7 3425.0,269.0 C3330.7,268.3 3244.2,268.2 3200.0,267.0 C3155.8,265.8 3166.6,262.8 3160.0,262.0 C3153.4,261.2 3160.5,262.0 3160.5,262.0" fill="none" stroke="#A80036" stroke-width="1"/>
<polygon points="3140.6,260.6 3161.1,255.1 3160.0,269.0" fill="#fff" stroke="#A80036" stroke-width="1"/>
<path d="M3125.5,324.4 L3108.6,282.9" fill="none" stroke="#A80036" stroke-width="1"/>
<polygon points="3101.0,264.4 3115.0,280.3 3102.1,285.6" fill="#fff" stroke="#A80036" stroke-width="1"/>
<path d="M3103.0,454.4 L3124.9,397.1" fill="none" stroke="#A80036" stroke-width="1"/>
<polygon points="3132.0,378.4 3131.4,399.6 3118.3,394.6" fill="#fff" stroke="#A80036" stroke-width="1"/>
<path d="M3229.0,568.2 L3165.0,397.1" fill="none" stroke="#A80036" stroke-width="1"/>
<polygon points="3158.0,378.4 3171.6,394.7 3158.5,399.6" fill="#fff" stroke="#A80036" stroke-width="1"/>
<path d="M3173.0,378.4 C3181.8,387.0 3210.5,413.1 3225.5,430.0 C3240.5,446.9 3251.3,463.3 3263.0,480.0 C3274.7,496.7 3286.3,513.3 3295.5,530.0 C3304.7,546.7 3312.2,564.2 3318.0,580.0 C3323.8,595.8 3326.8,605.3 3330.0,625.0 C3333.2,644.7 3336.2,686.2 3337.5,698.4" fill="none" stroke="#A80036" stroke-width="1"/>
<path d="M3205.5,370.0 C3213.4,372.7 3225.9,371.9 3253.0,386.0 C3280.1,400.1 3348.8,443.0 3368.0,454.4" fill="none" stroke="#A80036" stroke-width="1"/>
<path d="M3088.8,508.4 L3081.0,568.2" fill="none" stroke="#A80036" stroke-width="1"/>
<path d="M3125.6,508.4 L3203.0,568.2" fill="none" stroke="#A80036" stroke-width="1"/>
<path d="M3222.2,622.2 L3177.6,698.4" fill="none" stroke="#A80036" stroke-width="1"/>
<path d="M3257.0,622.2 L3316.0,698.4" fill="none" stroke="#A80036" stroke-width="1"/>
<path d="M3156.6,455.0 C3168.8,451.2 3207.8,438.8 3230.0,432.0 C3252.2,425.2 3272.5,417.9 3290.0,414.0 C3307.5,410.1 3289.3,409.6 3335.0,408.5 C3380.7,407.4 3476.5,407.2 3564.0,407.5 C3651.5,407.8 3765.7,409.9 3860.0,410.0 C3954.3,410.1 4073.3,409.3 4130.0,408.0 C4186.7,406.7 4183.0,405.0 4200.0,402.0 C4217.0,399.0 4224.7,393.9 4232.0,390.0 C4239.3,386.1 4242.0,380.3 4244.0,378.4" fill="none" stroke="#A80036" stroke-width="1"/>
<path d="M3300.5,580.0 C3344.4,567.1 3497.4,525.3 3564.0,502.5 C3630.6,479.7 3650.7,458.4 3700.0,443.0 C3749.3,427.6 3788.3,415.8 3860.0,410.0 C3931.7,404.2 4073.3,409.3 4130.0,408.0 C4186.7,406.7 4183.0,405.0 4200.0,402.0 C4217.0,399.0 4224.7,393.9 4232.0,390.0 C4239.3,386.1 4242.0,380.3 4244.0,378.4" fill="none" stroke="#A80036" stroke-width="1"/>
<path d="M3944.7,324.4 L3945.1,284.4" fill="none" stroke="#A80036" stroke-width="1"/>
<polygon points="3945.3,264.4 3952.1,284.5 3938.1,284.3" fill="#fff" stroke="#A80036" stroke-width="1"/>
<path d="M3968.8,264.4 C3969.5,269.5 3973.0,285.0 3973.0,295.0 C3973.0,305.0 3969.7,319.5 3969.0,324.4" fill="none" stroke="#A80036" stroke-width="1"/>
<path d="M4009.3,264.4 L4089.0,324.4" fill="none" stroke="#A80036" stroke-width="1"/>
<path d="M4253.0,324.4 C4247.5,318.7 4233.8,299.9 4220.0,290.0 C4206.2,280.1 4200.0,272.7 4170.0,265.0 C4140.0,257.3 4061.8,247.5 4040.0,244.0 C4018.2,240.5 4039.1,243.9 4038.9,243.8" fill="none" stroke="#A80036" stroke-width="1"/>
<polygon points="4019.2,240.6 4040.1,236.9 4037.8,250.7" fill="#fff" stroke="#A80036" stroke-width="1"/>
<path d="M3964.0,454.4 L3960.3,398.4" fill="none" stroke="#A80036" stroke-width="1"/>
<polygon points="3959.0,378.4 3967.3,397.9 3953.3,398.8" fill="#fff" stroke="#A80036" stroke-width="1"/>
<path d="M390.0,378.4 L455.0,454.4" fill="none" stroke="#A80036" stroke-width="1"/>
<path d="M502.5,454.4 C508.8,449.3 527.1,432.2 540.0,424.0 C552.9,415.8 567.5,409.2 580.0,405.0 C592.5,400.8 605.8,401.8 615.0,399.0 C624.2,396.2 631.6,389.9 635.0,388.0" fill="none" stroke="#A80036" stroke-width="1"/>
<polygon points="652.5,378.4 638.3,394.2 631.6,381.9" fill="#fff" stroke="#A80036" stroke-width="1"/>
<path d="M649.0,454.4 L669.3,397.2" fill="none" stroke="#A80036" stroke-width="1"/>
<polygon points="676.0,378.4 675.9,399.6 662.7,394.9" fill="#fff" stroke="#A80036" stroke-width="1"/>
<path d="M705.4,568.2 C708.2,560.2 718.7,536.4 722.0,520.0 C725.3,503.6 725.7,486.7 725.0,470.0 C724.3,453.3 719.8,432.0 718.0,420.0 C716.2,408.0 714.9,401.8 714.3,398.1" fill="none" stroke="#A80036" stroke-width="1"/>
<polygon points="711.0,378.4 721.2,397.0 707.4,399.3" fill="#fff" stroke="#A80036" stroke-width="1"/>
<path d="M851.0,454.4 L756.5,389.7" fill="none" stroke="#A80036" stroke-width="1"/>
<polygon points="740.0,378.4 760.5,383.9 752.5,395.5" fill="#fff" stroke="#A80036" stroke-width="1"/>
<path d="M478.5,568.2 L478.5,528.4" fill="none" stroke="#A80036" stroke-width="1"/>
<polygon points="478.5,508.4 485.5,528.4 471.5,528.4" fill="#fff" stroke="#A80036" stroke-width="1"/>
<path d="M517.5,508.4 L631.5,567.0" fill="none" stroke="#A80036" stroke-width="1"/>
<path d="M906.0,508.4 L936.0,568.2" fill="none" stroke="#A80036" stroke-width="1"/>
<path d="M493.0,698.4 C500.0,693.3 518.8,676.4 535.0,668.0 C551.2,659.6 550.2,651.8 590.0,648.0 C629.8,644.2 727.8,649.8 773.5,645.0 C819.2,640.2 848.8,623.8 864.0,619.5 C879.2,615.2 864.6,619.3 864.7,619.3" fill="none" stroke="#A80036" stroke-width="1"/>
<polygon points="883.7,613.0 866.9,625.9 862.5,612.6" fill="#fff" stroke="#A80036" stroke-width="1"/>
<path d="M701.2,698.4 C709.3,692.8 734.9,673.9 750.0,665.0 C765.1,656.1 772.6,652.2 791.6,645.0 C810.6,637.8 851.9,625.8 864.0,622.0 C876.1,618.2 864.3,621.9 864.3,621.9" fill="none" stroke="#A80036" stroke-width="1"/>
<polygon points="883.7,617.0 866.0,628.7 862.6,615.1" fill="#fff" stroke="#A80036" stroke-width="1"/>
<path d="M874.8,698.4 L918.4,638.6" fill="none" stroke="#A80036" stroke-width="1"/>
<polygon points="930.2,622.4 924.1,642.7 912.8,634.4" fill="#fff" stroke="#A80036" stroke-width="1"/>
<path d="M1026.0,698.4 L980.9,638.4" fill="none" stroke="#A80036" stroke-width="1"/>
<polygon points="968.9,622.4 986.5,634.2 975.3,642.6" fill="#fff" stroke="#A80036" stroke-width="1"/>
<path d="M1214.7,698.4 C1207.2,693.7 1186.3,677.7 1170.0,670.0 C1153.7,662.3 1139.5,661.2 1117.0,652.0 C1094.5,642.8 1048.8,621.2 1035.0,615.0 C1021.2,608.8 1034.4,614.8 1034.2,614.8" fill="none" stroke="#A80036" stroke-width="1"/>
<polygon points="1015.1,609.0 1036.3,608.1 1032.2,621.5" fill="#fff" stroke="#A80036" stroke-width="1"/>
<path d="M1421.3,698.4 C1414.4,694.5 1396.2,683.1 1380.0,675.0 C1363.8,666.9 1355.7,658.7 1324.0,650.0 C1292.3,641.3 1237.8,631.3 1189.6,623.0 C1141.4,614.7 1060.8,603.8 1035.0,600.0 C1009.2,596.2 1035.0,600.0 1035.0,600.0" fill="none" stroke="#A80036" stroke-width="1"/>
<polygon points="1015.1,598.0 1035.7,593.0 1034.3,607.0" fill="#fff" stroke="#A80036" stroke-width="1"/>
<path d="M2060.0,378.4 L2115.0,454.4" fill="none" stroke="#A80036" stroke-width="1"/>
<path d="M2188.4,378.4 L2147.0,454.4" fill="none" stroke="#A80036" stroke-width="1"/>
<path d="M2327.0,378.4 L2181.0,454.4" fill="none" stroke="#A80036" stroke-width="1"/>
<path d="M2365.0,378.4 C2364.2,384.7 2359.7,403.3 2360.0,416.0 C2360.3,428.7 2365.8,448.0 2367.0,454.4" fill="none" stroke="#A80036" stroke-width="1"/>
<path d="M2386.0,378.4 C2387.2,384.7 2392.4,403.3 2393.0,416.0 C2393.6,428.7 2390.1,448.0 2389.5,454.4" fill="none" stroke="#A80036" stroke-width="1"/>
<path d="M2381.0,508.4 L2383.5,568.2" fill="none" stroke="#A80036" stroke-width="1"/>
<path d="M1952.5,568.2 L2059.5,517.0" fill="none" stroke="#A80036" stroke-width="1"/>
<polygon points="2077.5,508.4 2062.5,523.3 2056.4,510.7" fill="#fff" stroke="#A80036" stroke-width="1"/>
<path d="M2080.0,568.2 L2106.9,525.3" fill="none" stroke="#A80036" stroke-width="1"/>
<polygon points="2117.5,508.4 2112.8,529.1 2100.9,521.6" fill="#fff" stroke="#A80036" stroke-width="1"/>
<path d="M2203.5,568.2 L2167.6,523.9" fill="none" stroke="#A80036" stroke-width="1"/>
<polygon points="2155.0,508.4 2173.0,519.5 2162.2,528.3" fill="#fff" stroke="#A80036" stroke-width="1"/>
</svg></body></html>
